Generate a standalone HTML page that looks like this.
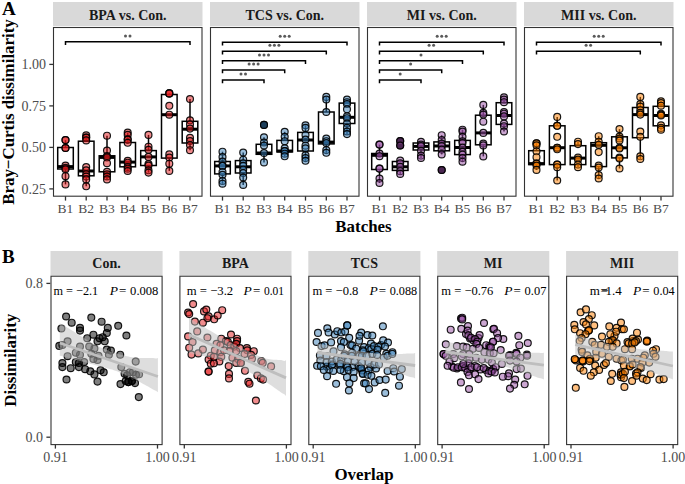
<!DOCTYPE html><html><head><meta charset="utf-8"><style>html,body{margin:0;padding:0;background:#fff;width:685px;height:484px;overflow:hidden}</style></head><body><svg width="685" height="484" viewBox="0 0 685 484" style="position:absolute;left:0;top:0" font-family='"Liberation Serif", serif'>
<rect width="685" height="484" fill="#fff"/>
<text x="2" y="14.6" font-size="19" font-weight="bold" fill="#000">A</text>
<text x="2" y="263" font-size="19" font-weight="bold" fill="#000">B</text>
<text transform="translate(13.8,112) rotate(-90)" text-anchor="middle" font-size="16.9" font-weight="bold" fill="#000">Bray−Curtis dissimilarity</text>
<text transform="translate(16.3,360.2) rotate(-90)" text-anchor="middle" font-size="16.9" font-weight="bold" fill="#000">Dissimilarity</text>
<text x="363.5" y="231.6" text-anchor="middle" font-size="16.9" font-weight="bold" fill="#000">Batches</text>
<text x="364" y="480" text-anchor="middle" font-size="16.9" font-weight="bold" fill="#000">Overlap</text>
<text x="46" y="193.9" text-anchor="end" font-size="14" fill="#4d4d4d">0.25</text>
<line x1="49.3" x2="53.2" y1="188.9" y2="188.9" stroke="#333333" stroke-width="1.3"/>
<text x="46" y="152.4" text-anchor="end" font-size="14" fill="#4d4d4d">0.50</text>
<line x1="49.3" x2="53.2" y1="147.4" y2="147.4" stroke="#333333" stroke-width="1.3"/>
<text x="46" y="110.9" text-anchor="end" font-size="14" fill="#4d4d4d">0.75</text>
<line x1="49.3" x2="53.2" y1="105.9" y2="105.9" stroke="#333333" stroke-width="1.3"/>
<text x="46" y="69.4" text-anchor="end" font-size="14" fill="#4d4d4d">1.00</text>
<line x1="49.3" x2="53.2" y1="64.4" y2="64.4" stroke="#333333" stroke-width="1.3"/>
<rect x="53" y="2" width="149.5" height="24" fill="#d9d9d9"/>
<text x="127.8" y="20" text-anchor="middle" font-size="14" font-weight="bold" fill="#1a1a1a">BPA vs. Con.</text>
<line x1="65.5" x2="65.5" y1="140.1" y2="147.5" stroke="#000" stroke-width="1.5"/>
<line x1="65.5" x2="65.5" y1="169.0" y2="184.4" stroke="#000" stroke-width="1.5"/>
<rect x="57.7" y="147.5" width="15.6" height="21.5" fill="#fff" stroke="#000" stroke-width="1.5"/>
<line x1="57.7" x2="73.3" y1="166.6" y2="166.6" stroke="#000" stroke-width="3"/>
<circle cx="65.5" cy="140.1" r="3.45" fill="rgba(228,26,28,0.5)" stroke="rgba(0,0,0,0.9)" stroke-width="1.2"/>
<circle cx="65.5" cy="140.1" r="3.45" fill="rgba(228,26,28,0.5)" stroke="rgba(0,0,0,0.9)" stroke-width="1.2"/>
<circle cx="65.5" cy="148.0" r="3.45" fill="rgba(228,26,28,0.5)" stroke="rgba(0,0,0,0.9)" stroke-width="1.2"/>
<circle cx="65.5" cy="148.0" r="3.45" fill="rgba(228,26,28,0.5)" stroke="rgba(0,0,0,0.9)" stroke-width="1.2"/>
<circle cx="65.5" cy="165.5" r="3.45" fill="rgba(228,26,28,0.5)" stroke="rgba(0,0,0,0.9)" stroke-width="1.2"/>
<circle cx="65.5" cy="167.9" r="3.45" fill="rgba(228,26,28,0.5)" stroke="rgba(0,0,0,0.9)" stroke-width="1.2"/>
<circle cx="65.5" cy="169.3" r="3.45" fill="rgba(228,26,28,0.5)" stroke="rgba(0,0,0,0.9)" stroke-width="1.2"/>
<circle cx="65.5" cy="176.2" r="3.45" fill="rgba(228,26,28,0.5)" stroke="rgba(0,0,0,0.9)" stroke-width="1.2"/>
<circle cx="65.5" cy="184.4" r="3.45" fill="rgba(228,26,28,0.5)" stroke="rgba(0,0,0,0.9)" stroke-width="1.2"/>
<line x1="86.2" x2="86.2" y1="135.4" y2="141.2" stroke="#000" stroke-width="1.5"/>
<line x1="86.2" x2="86.2" y1="175.8" y2="186.3" stroke="#000" stroke-width="1.5"/>
<rect x="78.4" y="141.2" width="15.6" height="34.6" fill="#fff" stroke="#000" stroke-width="1.5"/>
<line x1="78.4" x2="94.0" y1="171.0" y2="171.0" stroke="#000" stroke-width="3"/>
<circle cx="86.2" cy="135.4" r="3.45" fill="rgba(228,26,28,0.5)" stroke="rgba(0,0,0,0.9)" stroke-width="1.2"/>
<circle cx="86.2" cy="137.6" r="3.45" fill="rgba(228,26,28,0.5)" stroke="rgba(0,0,0,0.9)" stroke-width="1.2"/>
<circle cx="86.2" cy="137.6" r="3.45" fill="rgba(228,26,28,0.5)" stroke="rgba(0,0,0,0.9)" stroke-width="1.2"/>
<circle cx="86.2" cy="140.4" r="3.45" fill="rgba(228,26,28,0.5)" stroke="rgba(0,0,0,0.9)" stroke-width="1.2"/>
<circle cx="86.2" cy="167.1" r="3.45" fill="rgba(228,26,28,0.5)" stroke="rgba(0,0,0,0.9)" stroke-width="1.2"/>
<circle cx="86.2" cy="170.3" r="3.45" fill="rgba(228,26,28,0.5)" stroke="rgba(0,0,0,0.9)" stroke-width="1.2"/>
<circle cx="86.2" cy="174.2" r="3.45" fill="rgba(228,26,28,0.5)" stroke="rgba(0,0,0,0.9)" stroke-width="1.2"/>
<circle cx="86.2" cy="176.5" r="3.45" fill="rgba(228,26,28,0.5)" stroke="rgba(0,0,0,0.9)" stroke-width="1.2"/>
<circle cx="86.2" cy="179.4" r="3.45" fill="rgba(228,26,28,0.5)" stroke="rgba(0,0,0,0.9)" stroke-width="1.2"/>
<circle cx="86.2" cy="186.3" r="3.45" fill="rgba(228,26,28,0.5)" stroke="rgba(0,0,0,0.9)" stroke-width="1.2"/>
<line x1="107.0" x2="107.0" y1="135.7" y2="155.8" stroke="#000" stroke-width="1.5"/>
<line x1="107.0" x2="107.0" y1="171.8" y2="179.4" stroke="#000" stroke-width="1.5"/>
<rect x="99.2" y="155.8" width="15.6" height="16.0" fill="#fff" stroke="#000" stroke-width="1.5"/>
<line x1="99.2" x2="114.8" y1="157.4" y2="157.4" stroke="#000" stroke-width="3"/>
<circle cx="107.0" cy="135.7" r="3.45" fill="rgba(228,26,28,0.5)" stroke="rgba(0,0,0,0.9)" stroke-width="1.2"/>
<circle cx="107.0" cy="150.6" r="3.45" fill="rgba(228,26,28,0.5)" stroke="rgba(0,0,0,0.9)" stroke-width="1.2"/>
<circle cx="107.0" cy="156.1" r="3.45" fill="rgba(228,26,28,0.5)" stroke="rgba(0,0,0,0.9)" stroke-width="1.2"/>
<circle cx="107.0" cy="157.4" r="3.45" fill="rgba(228,26,28,0.5)" stroke="rgba(0,0,0,0.9)" stroke-width="1.2"/>
<circle cx="107.0" cy="163.2" r="3.45" fill="rgba(228,26,28,0.5)" stroke="rgba(0,0,0,0.9)" stroke-width="1.2"/>
<circle cx="107.0" cy="171.8" r="3.45" fill="rgba(228,26,28,0.5)" stroke="rgba(0,0,0,0.9)" stroke-width="1.2"/>
<circle cx="107.0" cy="174.2" r="3.45" fill="rgba(228,26,28,0.5)" stroke="rgba(0,0,0,0.9)" stroke-width="1.2"/>
<circle cx="107.0" cy="176.5" r="3.45" fill="rgba(228,26,28,0.5)" stroke="rgba(0,0,0,0.9)" stroke-width="1.2"/>
<circle cx="107.0" cy="179.4" r="3.45" fill="rgba(228,26,28,0.5)" stroke="rgba(0,0,0,0.9)" stroke-width="1.2"/>
<line x1="127.7" x2="127.7" y1="132.6" y2="142.5" stroke="#000" stroke-width="1.5"/>
<line x1="127.7" x2="127.7" y1="166.8" y2="171.0" stroke="#000" stroke-width="1.5"/>
<rect x="119.9" y="142.5" width="15.6" height="24.3" fill="#fff" stroke="#000" stroke-width="1.5"/>
<line x1="119.9" x2="135.5" y1="162.1" y2="162.1" stroke="#000" stroke-width="3"/>
<circle cx="127.7" cy="132.6" r="3.45" fill="rgba(228,26,28,0.5)" stroke="rgba(0,0,0,0.9)" stroke-width="1.2"/>
<circle cx="127.7" cy="134.9" r="3.45" fill="rgba(228,26,28,0.5)" stroke="rgba(0,0,0,0.9)" stroke-width="1.2"/>
<circle cx="127.7" cy="139.6" r="3.45" fill="rgba(228,26,28,0.5)" stroke="rgba(0,0,0,0.9)" stroke-width="1.2"/>
<circle cx="127.7" cy="139.6" r="3.45" fill="rgba(228,26,28,0.5)" stroke="rgba(0,0,0,0.9)" stroke-width="1.2"/>
<circle cx="127.7" cy="142.8" r="3.45" fill="rgba(228,26,28,0.5)" stroke="rgba(0,0,0,0.9)" stroke-width="1.2"/>
<circle cx="127.7" cy="160.8" r="3.45" fill="rgba(228,26,28,0.5)" stroke="rgba(0,0,0,0.9)" stroke-width="1.2"/>
<circle cx="127.7" cy="162.7" r="3.45" fill="rgba(228,26,28,0.5)" stroke="rgba(0,0,0,0.9)" stroke-width="1.2"/>
<circle cx="127.7" cy="167.1" r="3.45" fill="rgba(228,26,28,0.5)" stroke="rgba(0,0,0,0.9)" stroke-width="1.2"/>
<circle cx="127.7" cy="168.7" r="3.45" fill="rgba(228,26,28,0.5)" stroke="rgba(0,0,0,0.9)" stroke-width="1.2"/>
<circle cx="127.7" cy="171.0" r="3.45" fill="rgba(228,26,28,0.5)" stroke="rgba(0,0,0,0.9)" stroke-width="1.2"/>
<line x1="148.5" x2="148.5" y1="134.9" y2="150.6" stroke="#000" stroke-width="1.5"/>
<line x1="148.5" x2="148.5" y1="165.5" y2="172.6" stroke="#000" stroke-width="1.5"/>
<rect x="140.7" y="150.6" width="15.6" height="14.9" fill="#fff" stroke="#000" stroke-width="1.5"/>
<line x1="140.7" x2="156.3" y1="156.9" y2="156.9" stroke="#000" stroke-width="3"/>
<circle cx="148.5" cy="134.9" r="3.45" fill="rgba(228,26,28,0.5)" stroke="rgba(0,0,0,0.9)" stroke-width="1.2"/>
<circle cx="148.5" cy="146.7" r="3.45" fill="rgba(228,26,28,0.5)" stroke="rgba(0,0,0,0.9)" stroke-width="1.2"/>
<circle cx="148.5" cy="149.8" r="3.45" fill="rgba(228,26,28,0.5)" stroke="rgba(0,0,0,0.9)" stroke-width="1.2"/>
<circle cx="148.5" cy="156.9" r="3.45" fill="rgba(228,26,28,0.5)" stroke="rgba(0,0,0,0.9)" stroke-width="1.2"/>
<circle cx="148.5" cy="164.0" r="3.45" fill="rgba(228,26,28,0.5)" stroke="rgba(0,0,0,0.9)" stroke-width="1.2"/>
<circle cx="148.5" cy="165.5" r="3.45" fill="rgba(228,26,28,0.5)" stroke="rgba(0,0,0,0.9)" stroke-width="1.2"/>
<circle cx="148.5" cy="170.3" r="3.45" fill="rgba(228,26,28,0.5)" stroke="rgba(0,0,0,0.9)" stroke-width="1.2"/>
<circle cx="148.5" cy="172.6" r="3.45" fill="rgba(228,26,28,0.5)" stroke="rgba(0,0,0,0.9)" stroke-width="1.2"/>
<line x1="169.3" x2="169.3" y1="93.4" y2="94.5" stroke="#000" stroke-width="1.5"/>
<line x1="169.3" x2="169.3" y1="158.1" y2="170.9" stroke="#000" stroke-width="1.5"/>
<rect x="161.5" y="94.5" width="15.6" height="63.6" fill="#fff" stroke="#000" stroke-width="1.5"/>
<line x1="161.5" x2="177.1" y1="114.7" y2="114.7" stroke="#000" stroke-width="3"/>
<circle cx="169.3" cy="93.4" r="3.45" fill="rgba(228,26,28,0.5)" stroke="rgba(0,0,0,0.9)" stroke-width="1.2"/>
<circle cx="169.3" cy="93.4" r="3.45" fill="rgba(228,26,28,0.5)" stroke="rgba(0,0,0,0.9)" stroke-width="1.2"/>
<circle cx="169.3" cy="93.4" r="3.45" fill="rgba(228,26,28,0.5)" stroke="rgba(0,0,0,0.9)" stroke-width="1.2"/>
<circle cx="169.3" cy="105.8" r="3.45" fill="rgba(228,26,28,0.5)" stroke="rgba(0,0,0,0.9)" stroke-width="1.2"/>
<circle cx="169.3" cy="114.7" r="3.45" fill="rgba(228,26,28,0.5)" stroke="rgba(0,0,0,0.9)" stroke-width="1.2"/>
<circle cx="169.3" cy="154.4" r="3.45" fill="rgba(228,26,28,0.5)" stroke="rgba(0,0,0,0.9)" stroke-width="1.2"/>
<circle cx="169.3" cy="157.5" r="3.45" fill="rgba(228,26,28,0.5)" stroke="rgba(0,0,0,0.9)" stroke-width="1.2"/>
<circle cx="169.3" cy="163.7" r="3.45" fill="rgba(228,26,28,0.5)" stroke="rgba(0,0,0,0.9)" stroke-width="1.2"/>
<circle cx="169.3" cy="170.9" r="3.45" fill="rgba(228,26,28,0.5)" stroke="rgba(0,0,0,0.9)" stroke-width="1.2"/>
<line x1="190.0" x2="190.0" y1="99.0" y2="121.3" stroke="#000" stroke-width="1.5"/>
<line x1="190.0" x2="190.0" y1="143.0" y2="150.2" stroke="#000" stroke-width="1.5"/>
<rect x="182.2" y="121.3" width="15.6" height="21.7" fill="#fff" stroke="#000" stroke-width="1.5"/>
<line x1="182.2" x2="197.8" y1="129.2" y2="129.2" stroke="#000" stroke-width="3"/>
<circle cx="190.0" cy="99.0" r="3.45" fill="rgba(228,26,28,0.5)" stroke="rgba(0,0,0,0.9)" stroke-width="1.2"/>
<circle cx="190.0" cy="120.3" r="3.45" fill="rgba(228,26,28,0.5)" stroke="rgba(0,0,0,0.9)" stroke-width="1.2"/>
<circle cx="190.0" cy="124.4" r="3.45" fill="rgba(228,26,28,0.5)" stroke="rgba(0,0,0,0.9)" stroke-width="1.2"/>
<circle cx="190.0" cy="128.6" r="3.45" fill="rgba(228,26,28,0.5)" stroke="rgba(0,0,0,0.9)" stroke-width="1.2"/>
<circle cx="190.0" cy="137.9" r="3.45" fill="rgba(228,26,28,0.5)" stroke="rgba(0,0,0,0.9)" stroke-width="1.2"/>
<circle cx="190.0" cy="141.0" r="3.45" fill="rgba(228,26,28,0.5)" stroke="rgba(0,0,0,0.9)" stroke-width="1.2"/>
<circle cx="190.0" cy="145.1" r="3.45" fill="rgba(228,26,28,0.5)" stroke="rgba(0,0,0,0.9)" stroke-width="1.2"/>
<circle cx="190.0" cy="150.2" r="3.45" fill="rgba(228,26,28,0.5)" stroke="rgba(0,0,0,0.9)" stroke-width="1.2"/>
<path d="M65.5,45.1 V41.8 H190.0 V45.1" fill="none" stroke="#000" stroke-width="1.5"/>
<circle cx="125.5" cy="35.9" r="1.5" fill="#5a5a5a"/>
<circle cx="130.0" cy="35.9" r="1.5" fill="#5a5a5a"/>
<rect x="53.5" y="27.5" width="148.5" height="168.7" fill="none" stroke="#333333" stroke-width="1.1"/>
<line x1="65.5" x2="65.5" y1="196.2" y2="200.6" stroke="#333333" stroke-width="1.3"/>
<text x="65.5" y="212.9" text-anchor="middle" font-size="13.5" fill="#4d4d4d">B1</text>
<line x1="86.2" x2="86.2" y1="196.2" y2="200.6" stroke="#333333" stroke-width="1.3"/>
<text x="86.2" y="212.9" text-anchor="middle" font-size="13.5" fill="#4d4d4d">B2</text>
<line x1="107.0" x2="107.0" y1="196.2" y2="200.6" stroke="#333333" stroke-width="1.3"/>
<text x="107.0" y="212.9" text-anchor="middle" font-size="13.5" fill="#4d4d4d">B3</text>
<line x1="127.7" x2="127.7" y1="196.2" y2="200.6" stroke="#333333" stroke-width="1.3"/>
<text x="127.7" y="212.9" text-anchor="middle" font-size="13.5" fill="#4d4d4d">B4</text>
<line x1="148.5" x2="148.5" y1="196.2" y2="200.6" stroke="#333333" stroke-width="1.3"/>
<text x="148.5" y="212.9" text-anchor="middle" font-size="13.5" fill="#4d4d4d">B5</text>
<line x1="169.3" x2="169.3" y1="196.2" y2="200.6" stroke="#333333" stroke-width="1.3"/>
<text x="169.3" y="212.9" text-anchor="middle" font-size="13.5" fill="#4d4d4d">B6</text>
<line x1="190.0" x2="190.0" y1="196.2" y2="200.6" stroke="#333333" stroke-width="1.3"/>
<text x="190.0" y="212.9" text-anchor="middle" font-size="13.5" fill="#4d4d4d">B7</text>
<rect x="210" y="2" width="149.5" height="24" fill="#d9d9d9"/>
<text x="284.8" y="20" text-anchor="middle" font-size="14" font-weight="bold" fill="#1a1a1a">TCS vs. Con.</text>
<line x1="222.5" x2="222.5" y1="151.7" y2="161.5" stroke="#000" stroke-width="1.5"/>
<line x1="222.5" x2="222.5" y1="173.9" y2="183.7" stroke="#000" stroke-width="1.5"/>
<rect x="214.7" y="161.5" width="15.6" height="12.4" fill="#fff" stroke="#000" stroke-width="1.5"/>
<line x1="214.7" x2="230.3" y1="165.9" y2="165.9" stroke="#000" stroke-width="3"/>
<circle cx="222.5" cy="151.7" r="3.45" fill="rgba(55,126,184,0.5)" stroke="rgba(0,0,0,0.9)" stroke-width="1.2"/>
<circle cx="222.5" cy="157.0" r="3.45" fill="rgba(55,126,184,0.5)" stroke="rgba(0,0,0,0.9)" stroke-width="1.2"/>
<circle cx="222.5" cy="161.5" r="3.45" fill="rgba(55,126,184,0.5)" stroke="rgba(0,0,0,0.9)" stroke-width="1.2"/>
<circle cx="222.5" cy="165.9" r="3.45" fill="rgba(55,126,184,0.5)" stroke="rgba(0,0,0,0.9)" stroke-width="1.2"/>
<circle cx="222.5" cy="165.9" r="3.45" fill="rgba(55,126,184,0.5)" stroke="rgba(0,0,0,0.9)" stroke-width="1.2"/>
<circle cx="222.5" cy="172.1" r="3.45" fill="rgba(55,126,184,0.5)" stroke="rgba(0,0,0,0.9)" stroke-width="1.2"/>
<circle cx="222.5" cy="174.8" r="3.45" fill="rgba(55,126,184,0.5)" stroke="rgba(0,0,0,0.9)" stroke-width="1.2"/>
<circle cx="222.5" cy="181.0" r="3.45" fill="rgba(55,126,184,0.5)" stroke="rgba(0,0,0,0.9)" stroke-width="1.2"/>
<circle cx="222.5" cy="183.7" r="3.45" fill="rgba(55,126,184,0.5)" stroke="rgba(0,0,0,0.9)" stroke-width="1.2"/>
<line x1="243.2" x2="243.2" y1="152.6" y2="160.6" stroke="#000" stroke-width="1.5"/>
<line x1="243.2" x2="243.2" y1="173.0" y2="184.9" stroke="#000" stroke-width="1.5"/>
<rect x="235.4" y="160.6" width="15.6" height="12.4" fill="#fff" stroke="#000" stroke-width="1.5"/>
<line x1="235.4" x2="251.0" y1="166.8" y2="166.8" stroke="#000" stroke-width="3"/>
<circle cx="243.2" cy="152.6" r="3.45" fill="rgba(55,126,184,0.5)" stroke="rgba(0,0,0,0.9)" stroke-width="1.2"/>
<circle cx="243.2" cy="159.7" r="3.45" fill="rgba(55,126,184,0.5)" stroke="rgba(0,0,0,0.9)" stroke-width="1.2"/>
<circle cx="243.2" cy="163.3" r="3.45" fill="rgba(55,126,184,0.5)" stroke="rgba(0,0,0,0.9)" stroke-width="1.2"/>
<circle cx="243.2" cy="165.9" r="3.45" fill="rgba(55,126,184,0.5)" stroke="rgba(0,0,0,0.9)" stroke-width="1.2"/>
<circle cx="243.2" cy="169.5" r="3.45" fill="rgba(55,126,184,0.5)" stroke="rgba(0,0,0,0.9)" stroke-width="1.2"/>
<circle cx="243.2" cy="173.0" r="3.45" fill="rgba(55,126,184,0.5)" stroke="rgba(0,0,0,0.9)" stroke-width="1.2"/>
<circle cx="243.2" cy="177.5" r="3.45" fill="rgba(55,126,184,0.5)" stroke="rgba(0,0,0,0.9)" stroke-width="1.2"/>
<circle cx="243.2" cy="184.9" r="3.45" fill="rgba(55,126,184,0.5)" stroke="rgba(0,0,0,0.9)" stroke-width="1.2"/>
<line x1="264.0" x2="264.0" y1="137.3" y2="144.3" stroke="#000" stroke-width="1.5"/>
<line x1="264.0" x2="264.0" y1="154.3" y2="162.4" stroke="#000" stroke-width="1.5"/>
<rect x="256.2" y="144.3" width="15.6" height="10.0" fill="#fff" stroke="#000" stroke-width="1.5"/>
<line x1="256.2" x2="271.8" y1="153.0" y2="153.0" stroke="#000" stroke-width="3"/>
<circle cx="264.0" cy="124.9" r="3.45" fill="#000" stroke="rgba(0,0,0,0.9)" stroke-width="1.2"/>
<circle cx="264.0" cy="124.9" r="3.45" fill="rgba(55,126,184,0.5)" stroke="rgba(0,0,0,0.9)" stroke-width="1.2"/>
<circle cx="264.0" cy="137.3" r="3.45" fill="rgba(55,126,184,0.5)" stroke="rgba(0,0,0,0.9)" stroke-width="1.2"/>
<circle cx="264.0" cy="142.5" r="3.45" fill="rgba(55,126,184,0.5)" stroke="rgba(0,0,0,0.9)" stroke-width="1.2"/>
<circle cx="264.0" cy="145.5" r="3.45" fill="rgba(55,126,184,0.5)" stroke="rgba(0,0,0,0.9)" stroke-width="1.2"/>
<circle cx="264.0" cy="153.0" r="3.45" fill="rgba(55,126,184,0.5)" stroke="rgba(0,0,0,0.9)" stroke-width="1.2"/>
<circle cx="264.0" cy="162.4" r="3.45" fill="rgba(55,126,184,0.5)" stroke="rgba(0,0,0,0.9)" stroke-width="1.2"/>
<line x1="284.7" x2="284.7" y1="131.8" y2="140.4" stroke="#000" stroke-width="1.5"/>
<line x1="284.7" x2="284.7" y1="151.9" y2="156.3" stroke="#000" stroke-width="1.5"/>
<rect x="276.9" y="140.4" width="15.6" height="11.5" fill="#fff" stroke="#000" stroke-width="1.5"/>
<line x1="276.9" x2="292.5" y1="151.0" y2="151.0" stroke="#000" stroke-width="3"/>
<circle cx="284.7" cy="131.8" r="3.45" fill="rgba(55,126,184,0.5)" stroke="rgba(0,0,0,0.9)" stroke-width="1.2"/>
<circle cx="284.7" cy="136.8" r="3.45" fill="rgba(55,126,184,0.5)" stroke="rgba(0,0,0,0.9)" stroke-width="1.2"/>
<circle cx="284.7" cy="141.2" r="3.45" fill="rgba(55,126,184,0.5)" stroke="rgba(0,0,0,0.9)" stroke-width="1.2"/>
<circle cx="284.7" cy="148.3" r="3.45" fill="rgba(55,126,184,0.5)" stroke="rgba(0,0,0,0.9)" stroke-width="1.2"/>
<circle cx="284.7" cy="151.0" r="3.45" fill="rgba(55,126,184,0.5)" stroke="rgba(0,0,0,0.9)" stroke-width="1.2"/>
<circle cx="284.7" cy="151.0" r="3.45" fill="rgba(55,126,184,0.5)" stroke="rgba(0,0,0,0.9)" stroke-width="1.2"/>
<circle cx="284.7" cy="153.7" r="3.45" fill="rgba(55,126,184,0.5)" stroke="rgba(0,0,0,0.9)" stroke-width="1.2"/>
<circle cx="284.7" cy="156.3" r="3.45" fill="rgba(55,126,184,0.5)" stroke="rgba(0,0,0,0.9)" stroke-width="1.2"/>
<line x1="305.5" x2="305.5" y1="125.3" y2="132.4" stroke="#000" stroke-width="1.5"/>
<line x1="305.5" x2="305.5" y1="151.0" y2="160.8" stroke="#000" stroke-width="1.5"/>
<rect x="297.7" y="132.4" width="15.6" height="18.6" fill="#fff" stroke="#000" stroke-width="1.5"/>
<line x1="297.7" x2="313.3" y1="140.0" y2="140.0" stroke="#000" stroke-width="3"/>
<circle cx="305.5" cy="125.3" r="3.45" fill="rgba(55,126,184,0.5)" stroke="rgba(0,0,0,0.9)" stroke-width="1.2"/>
<circle cx="305.5" cy="127.9" r="3.45" fill="rgba(55,126,184,0.5)" stroke="rgba(0,0,0,0.9)" stroke-width="1.2"/>
<circle cx="305.5" cy="135.0" r="3.45" fill="rgba(55,126,184,0.5)" stroke="rgba(0,0,0,0.9)" stroke-width="1.2"/>
<circle cx="305.5" cy="139.5" r="3.45" fill="rgba(55,126,184,0.5)" stroke="rgba(0,0,0,0.9)" stroke-width="1.2"/>
<circle cx="305.5" cy="145.7" r="3.45" fill="rgba(55,126,184,0.5)" stroke="rgba(0,0,0,0.9)" stroke-width="1.2"/>
<circle cx="305.5" cy="148.3" r="3.45" fill="rgba(55,126,184,0.5)" stroke="rgba(0,0,0,0.9)" stroke-width="1.2"/>
<circle cx="305.5" cy="155.4" r="3.45" fill="rgba(55,126,184,0.5)" stroke="rgba(0,0,0,0.9)" stroke-width="1.2"/>
<circle cx="305.5" cy="158.1" r="3.45" fill="rgba(55,126,184,0.5)" stroke="rgba(0,0,0,0.9)" stroke-width="1.2"/>
<circle cx="305.5" cy="160.8" r="3.45" fill="rgba(55,126,184,0.5)" stroke="rgba(0,0,0,0.9)" stroke-width="1.2"/>
<line x1="326.3" x2="326.3" y1="96.9" y2="112.0" stroke="#000" stroke-width="1.5"/>
<line x1="326.3" x2="326.3" y1="143.9" y2="152.8" stroke="#000" stroke-width="1.5"/>
<rect x="318.5" y="112.0" width="15.6" height="31.9" fill="#fff" stroke="#000" stroke-width="1.5"/>
<line x1="318.5" x2="334.1" y1="142.1" y2="142.1" stroke="#000" stroke-width="3"/>
<circle cx="326.3" cy="96.9" r="3.45" fill="rgba(55,126,184,0.5)" stroke="rgba(0,0,0,0.9)" stroke-width="1.2"/>
<circle cx="326.3" cy="99.5" r="3.45" fill="rgba(55,126,184,0.5)" stroke="rgba(0,0,0,0.9)" stroke-width="1.2"/>
<circle cx="326.3" cy="112.0" r="3.45" fill="rgba(55,126,184,0.5)" stroke="rgba(0,0,0,0.9)" stroke-width="1.2"/>
<circle cx="326.3" cy="138.6" r="3.45" fill="rgba(55,126,184,0.5)" stroke="rgba(0,0,0,0.9)" stroke-width="1.2"/>
<circle cx="326.3" cy="141.2" r="3.45" fill="rgba(55,126,184,0.5)" stroke="rgba(0,0,0,0.9)" stroke-width="1.2"/>
<circle cx="326.3" cy="143.0" r="3.45" fill="rgba(55,126,184,0.5)" stroke="rgba(0,0,0,0.9)" stroke-width="1.2"/>
<circle cx="326.3" cy="150.1" r="3.45" fill="rgba(55,126,184,0.5)" stroke="rgba(0,0,0,0.9)" stroke-width="1.2"/>
<circle cx="326.3" cy="152.8" r="3.45" fill="rgba(55,126,184,0.5)" stroke="rgba(0,0,0,0.9)" stroke-width="1.2"/>
<line x1="347.0" x2="347.0" y1="99.5" y2="103.1" stroke="#000" stroke-width="1.5"/>
<line x1="347.0" x2="347.0" y1="123.5" y2="134.1" stroke="#000" stroke-width="1.5"/>
<rect x="339.2" y="103.1" width="15.6" height="20.4" fill="#fff" stroke="#000" stroke-width="1.5"/>
<line x1="339.2" x2="354.8" y1="117.3" y2="117.3" stroke="#000" stroke-width="3"/>
<circle cx="347.0" cy="99.5" r="3.45" fill="rgba(55,126,184,0.5)" stroke="rgba(0,0,0,0.9)" stroke-width="1.2"/>
<circle cx="347.0" cy="102.2" r="3.45" fill="rgba(55,126,184,0.5)" stroke="rgba(0,0,0,0.9)" stroke-width="1.2"/>
<circle cx="347.0" cy="104.0" r="3.45" fill="rgba(55,126,184,0.5)" stroke="rgba(0,0,0,0.9)" stroke-width="1.2"/>
<circle cx="347.0" cy="109.3" r="3.45" fill="rgba(55,126,184,0.5)" stroke="rgba(0,0,0,0.9)" stroke-width="1.2"/>
<circle cx="347.0" cy="116.4" r="3.45" fill="rgba(55,126,184,0.5)" stroke="rgba(0,0,0,0.9)" stroke-width="1.2"/>
<circle cx="347.0" cy="118.2" r="3.45" fill="rgba(55,126,184,0.5)" stroke="rgba(0,0,0,0.9)" stroke-width="1.2"/>
<circle cx="347.0" cy="123.5" r="3.45" fill="rgba(55,126,184,0.5)" stroke="rgba(0,0,0,0.9)" stroke-width="1.2"/>
<circle cx="347.0" cy="127.9" r="3.45" fill="rgba(55,126,184,0.5)" stroke="rgba(0,0,0,0.9)" stroke-width="1.2"/>
<circle cx="347.0" cy="131.5" r="3.45" fill="rgba(55,126,184,0.5)" stroke="rgba(0,0,0,0.9)" stroke-width="1.2"/>
<circle cx="347.0" cy="134.1" r="3.45" fill="rgba(55,126,184,0.5)" stroke="rgba(0,0,0,0.9)" stroke-width="1.2"/>
<path d="M222.5,45.5 V42.2 H347.0 V45.5" fill="none" stroke="#000" stroke-width="1.5"/>
<circle cx="280.2" cy="36.3" r="1.5" fill="#5a5a5a"/>
<circle cx="284.7" cy="36.3" r="1.5" fill="#5a5a5a"/>
<circle cx="289.2" cy="36.3" r="1.5" fill="#5a5a5a"/>
<path d="M222.5,54.5 V51.2 H326.3 V54.5" fill="none" stroke="#000" stroke-width="1.5"/>
<circle cx="269.9" cy="45.3" r="1.5" fill="#5a5a5a"/>
<circle cx="274.4" cy="45.3" r="1.5" fill="#5a5a5a"/>
<circle cx="278.9" cy="45.3" r="1.5" fill="#5a5a5a"/>
<path d="M222.5,64.1 V60.8 H305.5 V64.1" fill="none" stroke="#000" stroke-width="1.5"/>
<circle cx="259.5" cy="54.9" r="1.5" fill="#5a5a5a"/>
<circle cx="264.0" cy="54.9" r="1.5" fill="#5a5a5a"/>
<circle cx="268.5" cy="54.9" r="1.5" fill="#5a5a5a"/>
<path d="M222.5,73.3 V70.0 H284.7 V73.3" fill="none" stroke="#000" stroke-width="1.5"/>
<circle cx="249.1" cy="64.1" r="1.5" fill="#5a5a5a"/>
<circle cx="253.6" cy="64.1" r="1.5" fill="#5a5a5a"/>
<circle cx="258.1" cy="64.1" r="1.5" fill="#5a5a5a"/>
<path d="M222.5,83.2 V79.9 H264.0 V83.2" fill="none" stroke="#000" stroke-width="1.5"/>
<circle cx="241.0" cy="74.0" r="1.5" fill="#5a5a5a"/>
<circle cx="245.5" cy="74.0" r="1.5" fill="#5a5a5a"/>
<rect x="210.5" y="27.5" width="148.5" height="168.7" fill="none" stroke="#333333" stroke-width="1.1"/>
<line x1="222.5" x2="222.5" y1="196.2" y2="200.6" stroke="#333333" stroke-width="1.3"/>
<text x="222.5" y="212.9" text-anchor="middle" font-size="13.5" fill="#4d4d4d">B1</text>
<line x1="243.2" x2="243.2" y1="196.2" y2="200.6" stroke="#333333" stroke-width="1.3"/>
<text x="243.2" y="212.9" text-anchor="middle" font-size="13.5" fill="#4d4d4d">B2</text>
<line x1="264.0" x2="264.0" y1="196.2" y2="200.6" stroke="#333333" stroke-width="1.3"/>
<text x="264.0" y="212.9" text-anchor="middle" font-size="13.5" fill="#4d4d4d">B3</text>
<line x1="284.7" x2="284.7" y1="196.2" y2="200.6" stroke="#333333" stroke-width="1.3"/>
<text x="284.7" y="212.9" text-anchor="middle" font-size="13.5" fill="#4d4d4d">B4</text>
<line x1="305.5" x2="305.5" y1="196.2" y2="200.6" stroke="#333333" stroke-width="1.3"/>
<text x="305.5" y="212.9" text-anchor="middle" font-size="13.5" fill="#4d4d4d">B5</text>
<line x1="326.3" x2="326.3" y1="196.2" y2="200.6" stroke="#333333" stroke-width="1.3"/>
<text x="326.3" y="212.9" text-anchor="middle" font-size="13.5" fill="#4d4d4d">B6</text>
<line x1="347.0" x2="347.0" y1="196.2" y2="200.6" stroke="#333333" stroke-width="1.3"/>
<text x="347.0" y="212.9" text-anchor="middle" font-size="13.5" fill="#4d4d4d">B7</text>
<rect x="367" y="2" width="149.5" height="24" fill="#d9d9d9"/>
<text x="441.8" y="20" text-anchor="middle" font-size="14" font-weight="bold" fill="#1a1a1a">MI vs. Con.</text>
<line x1="379.5" x2="379.5" y1="144.6" y2="153.5" stroke="#000" stroke-width="1.5"/>
<line x1="379.5" x2="379.5" y1="169.5" y2="183.0" stroke="#000" stroke-width="1.5"/>
<rect x="371.7" y="153.5" width="15.6" height="16.0" fill="#fff" stroke="#000" stroke-width="1.5"/>
<line x1="371.7" x2="387.3" y1="155.3" y2="155.3" stroke="#000" stroke-width="3"/>
<circle cx="379.5" cy="144.6" r="3.45" fill="rgba(152,78,163,0.5)" stroke="rgba(0,0,0,0.9)" stroke-width="1.2"/>
<circle cx="379.5" cy="144.6" r="3.45" fill="rgba(152,78,163,0.5)" stroke="rgba(0,0,0,0.9)" stroke-width="1.2"/>
<circle cx="379.5" cy="153.5" r="3.45" fill="rgba(152,78,163,0.5)" stroke="rgba(0,0,0,0.9)" stroke-width="1.2"/>
<circle cx="379.5" cy="156.2" r="3.45" fill="rgba(152,78,163,0.5)" stroke="rgba(0,0,0,0.9)" stroke-width="1.2"/>
<circle cx="379.5" cy="168.6" r="3.45" fill="rgba(152,78,163,0.5)" stroke="rgba(0,0,0,0.9)" stroke-width="1.2"/>
<circle cx="379.5" cy="168.6" r="3.45" fill="rgba(152,78,163,0.5)" stroke="rgba(0,0,0,0.9)" stroke-width="1.2"/>
<circle cx="379.5" cy="178.5" r="3.45" fill="rgba(152,78,163,0.5)" stroke="rgba(0,0,0,0.9)" stroke-width="1.2"/>
<circle cx="379.5" cy="183.0" r="3.45" fill="rgba(152,78,163,0.5)" stroke="rgba(0,0,0,0.9)" stroke-width="1.2"/>
<line x1="400.2" x2="400.2" y1="160.6" y2="161.5" stroke="#000" stroke-width="1.5"/>
<line x1="400.2" x2="400.2" y1="170.4" y2="173.9" stroke="#000" stroke-width="1.5"/>
<rect x="392.4" y="161.5" width="15.6" height="8.9" fill="#fff" stroke="#000" stroke-width="1.5"/>
<line x1="392.4" x2="408.0" y1="166.8" y2="166.8" stroke="#000" stroke-width="3"/>
<circle cx="400.2" cy="141.0" r="3.45" fill="#000" stroke="rgba(0,0,0,0.9)" stroke-width="1.2"/>
<circle cx="400.2" cy="145.5" r="3.45" fill="#000" stroke="rgba(0,0,0,0.9)" stroke-width="1.2"/>
<circle cx="400.2" cy="141.0" r="3.45" fill="rgba(152,78,163,0.5)" stroke="rgba(0,0,0,0.9)" stroke-width="1.2"/>
<circle cx="400.2" cy="145.5" r="3.45" fill="rgba(152,78,163,0.5)" stroke="rgba(0,0,0,0.9)" stroke-width="1.2"/>
<circle cx="400.2" cy="160.6" r="3.45" fill="rgba(152,78,163,0.5)" stroke="rgba(0,0,0,0.9)" stroke-width="1.2"/>
<circle cx="400.2" cy="163.3" r="3.45" fill="rgba(152,78,163,0.5)" stroke="rgba(0,0,0,0.9)" stroke-width="1.2"/>
<circle cx="400.2" cy="166.8" r="3.45" fill="rgba(152,78,163,0.5)" stroke="rgba(0,0,0,0.9)" stroke-width="1.2"/>
<circle cx="400.2" cy="171.2" r="3.45" fill="rgba(152,78,163,0.5)" stroke="rgba(0,0,0,0.9)" stroke-width="1.2"/>
<circle cx="400.2" cy="173.9" r="3.45" fill="rgba(152,78,163,0.5)" stroke="rgba(0,0,0,0.9)" stroke-width="1.2"/>
<line x1="421.0" x2="421.0" y1="141.9" y2="143.0" stroke="#000" stroke-width="1.5"/>
<line x1="421.0" x2="421.0" y1="150.0" y2="158.0" stroke="#000" stroke-width="1.5"/>
<rect x="413.2" y="143.0" width="15.6" height="7.0" fill="#fff" stroke="#000" stroke-width="1.5"/>
<line x1="413.2" x2="428.8" y1="146.4" y2="146.4" stroke="#000" stroke-width="3"/>
<circle cx="421.0" cy="141.9" r="3.45" fill="rgba(152,78,163,0.5)" stroke="rgba(0,0,0,0.9)" stroke-width="1.2"/>
<circle cx="421.0" cy="144.6" r="3.45" fill="rgba(152,78,163,0.5)" stroke="rgba(0,0,0,0.9)" stroke-width="1.2"/>
<circle cx="421.0" cy="146.0" r="3.45" fill="rgba(152,78,163,0.5)" stroke="rgba(0,0,0,0.9)" stroke-width="1.2"/>
<circle cx="421.0" cy="150.8" r="3.45" fill="rgba(152,78,163,0.5)" stroke="rgba(0,0,0,0.9)" stroke-width="1.2"/>
<circle cx="421.0" cy="155.6" r="3.45" fill="rgba(152,78,163,0.5)" stroke="rgba(0,0,0,0.9)" stroke-width="1.2"/>
<circle cx="421.0" cy="158.0" r="3.45" fill="rgba(152,78,163,0.5)" stroke="rgba(0,0,0,0.9)" stroke-width="1.2"/>
<line x1="441.7" x2="441.7" y1="135.2" y2="141.9" stroke="#000" stroke-width="1.5"/>
<line x1="441.7" x2="441.7" y1="150.8" y2="154.4" stroke="#000" stroke-width="1.5"/>
<rect x="433.9" y="141.9" width="15.6" height="8.9" fill="#fff" stroke="#000" stroke-width="1.5"/>
<line x1="433.9" x2="449.5" y1="146.0" y2="146.0" stroke="#000" stroke-width="3"/>
<circle cx="441.7" cy="170.0" r="3.45" fill="#000" stroke="rgba(0,0,0,0.9)" stroke-width="1.2"/>
<circle cx="441.7" cy="135.2" r="3.45" fill="rgba(152,78,163,0.5)" stroke="rgba(0,0,0,0.9)" stroke-width="1.2"/>
<circle cx="441.7" cy="140.0" r="3.45" fill="rgba(152,78,163,0.5)" stroke="rgba(0,0,0,0.9)" stroke-width="1.2"/>
<circle cx="441.7" cy="143.6" r="3.45" fill="rgba(152,78,163,0.5)" stroke="rgba(0,0,0,0.9)" stroke-width="1.2"/>
<circle cx="441.7" cy="146.0" r="3.45" fill="rgba(152,78,163,0.5)" stroke="rgba(0,0,0,0.9)" stroke-width="1.2"/>
<circle cx="441.7" cy="149.6" r="3.45" fill="rgba(152,78,163,0.5)" stroke="rgba(0,0,0,0.9)" stroke-width="1.2"/>
<circle cx="441.7" cy="154.4" r="3.45" fill="rgba(152,78,163,0.5)" stroke="rgba(0,0,0,0.9)" stroke-width="1.2"/>
<circle cx="441.7" cy="170.0" r="3.45" fill="rgba(152,78,163,0.5)" stroke="rgba(0,0,0,0.9)" stroke-width="1.2"/>
<line x1="462.5" x2="462.5" y1="129.7" y2="140.4" stroke="#000" stroke-width="1.5"/>
<line x1="462.5" x2="462.5" y1="154.6" y2="161.7" stroke="#000" stroke-width="1.5"/>
<rect x="454.7" y="140.4" width="15.6" height="14.2" fill="#fff" stroke="#000" stroke-width="1.5"/>
<line x1="454.7" x2="470.3" y1="147.5" y2="147.5" stroke="#000" stroke-width="3"/>
<circle cx="462.5" cy="129.7" r="3.45" fill="rgba(152,78,163,0.5)" stroke="rgba(0,0,0,0.9)" stroke-width="1.2"/>
<circle cx="462.5" cy="131.5" r="3.45" fill="rgba(152,78,163,0.5)" stroke="rgba(0,0,0,0.9)" stroke-width="1.2"/>
<circle cx="462.5" cy="136.8" r="3.45" fill="rgba(152,78,163,0.5)" stroke="rgba(0,0,0,0.9)" stroke-width="1.2"/>
<circle cx="462.5" cy="141.3" r="3.45" fill="rgba(152,78,163,0.5)" stroke="rgba(0,0,0,0.9)" stroke-width="1.2"/>
<circle cx="462.5" cy="143.0" r="3.45" fill="rgba(152,78,163,0.5)" stroke="rgba(0,0,0,0.9)" stroke-width="1.2"/>
<circle cx="462.5" cy="147.5" r="3.45" fill="rgba(152,78,163,0.5)" stroke="rgba(0,0,0,0.9)" stroke-width="1.2"/>
<circle cx="462.5" cy="151.9" r="3.45" fill="rgba(152,78,163,0.5)" stroke="rgba(0,0,0,0.9)" stroke-width="1.2"/>
<circle cx="462.5" cy="154.6" r="3.45" fill="rgba(152,78,163,0.5)" stroke="rgba(0,0,0,0.9)" stroke-width="1.2"/>
<circle cx="462.5" cy="158.1" r="3.45" fill="rgba(152,78,163,0.5)" stroke="rgba(0,0,0,0.9)" stroke-width="1.2"/>
<circle cx="462.5" cy="161.7" r="3.45" fill="rgba(152,78,163,0.5)" stroke="rgba(0,0,0,0.9)" stroke-width="1.2"/>
<line x1="483.3" x2="483.3" y1="104.9" y2="115.2" stroke="#000" stroke-width="1.5"/>
<line x1="483.3" x2="483.3" y1="144.8" y2="156.4" stroke="#000" stroke-width="1.5"/>
<rect x="475.5" y="115.2" width="15.6" height="29.6" fill="#fff" stroke="#000" stroke-width="1.5"/>
<line x1="475.5" x2="491.1" y1="132.9" y2="132.9" stroke="#000" stroke-width="3"/>
<circle cx="483.3" cy="104.9" r="3.45" fill="rgba(152,78,163,0.5)" stroke="rgba(0,0,0,0.9)" stroke-width="1.2"/>
<circle cx="483.3" cy="112.9" r="3.45" fill="rgba(152,78,163,0.5)" stroke="rgba(0,0,0,0.9)" stroke-width="1.2"/>
<circle cx="483.3" cy="114.6" r="3.45" fill="rgba(152,78,163,0.5)" stroke="rgba(0,0,0,0.9)" stroke-width="1.2"/>
<circle cx="483.3" cy="121.7" r="3.45" fill="rgba(152,78,163,0.5)" stroke="rgba(0,0,0,0.9)" stroke-width="1.2"/>
<circle cx="483.3" cy="132.9" r="3.45" fill="rgba(152,78,163,0.5)" stroke="rgba(0,0,0,0.9)" stroke-width="1.2"/>
<circle cx="483.3" cy="143.6" r="3.45" fill="rgba(152,78,163,0.5)" stroke="rgba(0,0,0,0.9)" stroke-width="1.2"/>
<circle cx="483.3" cy="145.4" r="3.45" fill="rgba(152,78,163,0.5)" stroke="rgba(0,0,0,0.9)" stroke-width="1.2"/>
<circle cx="483.3" cy="156.4" r="3.45" fill="rgba(152,78,163,0.5)" stroke="rgba(0,0,0,0.9)" stroke-width="1.2"/>
<line x1="504.0" x2="504.0" y1="97.4" y2="102.7" stroke="#000" stroke-width="1.5"/>
<line x1="504.0" x2="504.0" y1="124.4" y2="131.5" stroke="#000" stroke-width="1.5"/>
<rect x="496.2" y="102.7" width="15.6" height="21.7" fill="#fff" stroke="#000" stroke-width="1.5"/>
<line x1="496.2" x2="511.8" y1="115.5" y2="115.5" stroke="#000" stroke-width="3"/>
<circle cx="504.0" cy="97.4" r="3.45" fill="rgba(152,78,163,0.5)" stroke="rgba(0,0,0,0.9)" stroke-width="1.2"/>
<circle cx="504.0" cy="99.5" r="3.45" fill="rgba(152,78,163,0.5)" stroke="rgba(0,0,0,0.9)" stroke-width="1.2"/>
<circle cx="504.0" cy="102.2" r="3.45" fill="rgba(152,78,163,0.5)" stroke="rgba(0,0,0,0.9)" stroke-width="1.2"/>
<circle cx="504.0" cy="112.0" r="3.45" fill="rgba(152,78,163,0.5)" stroke="rgba(0,0,0,0.9)" stroke-width="1.2"/>
<circle cx="504.0" cy="113.7" r="3.45" fill="rgba(152,78,163,0.5)" stroke="rgba(0,0,0,0.9)" stroke-width="1.2"/>
<circle cx="504.0" cy="116.4" r="3.45" fill="rgba(152,78,163,0.5)" stroke="rgba(0,0,0,0.9)" stroke-width="1.2"/>
<circle cx="504.0" cy="123.5" r="3.45" fill="rgba(152,78,163,0.5)" stroke="rgba(0,0,0,0.9)" stroke-width="1.2"/>
<circle cx="504.0" cy="126.2" r="3.45" fill="rgba(152,78,163,0.5)" stroke="rgba(0,0,0,0.9)" stroke-width="1.2"/>
<circle cx="504.0" cy="131.5" r="3.45" fill="rgba(152,78,163,0.5)" stroke="rgba(0,0,0,0.9)" stroke-width="1.2"/>
<path d="M379.5,45.5 V42.2 H504.0 V45.5" fill="none" stroke="#000" stroke-width="1.5"/>
<circle cx="437.2" cy="36.3" r="1.5" fill="#5a5a5a"/>
<circle cx="441.7" cy="36.3" r="1.5" fill="#5a5a5a"/>
<circle cx="446.2" cy="36.3" r="1.5" fill="#5a5a5a"/>
<path d="M379.5,54.5 V51.2 H483.3 V54.5" fill="none" stroke="#000" stroke-width="1.5"/>
<circle cx="429.1" cy="45.3" r="1.5" fill="#5a5a5a"/>
<circle cx="433.6" cy="45.3" r="1.5" fill="#5a5a5a"/>
<path d="M379.5,64.1 V60.8 H462.5 V64.1" fill="none" stroke="#000" stroke-width="1.5"/>
<circle cx="421.0" cy="54.9" r="1.5" fill="#5a5a5a"/>
<path d="M379.5,73.3 V70.0 H441.7 V73.3" fill="none" stroke="#000" stroke-width="1.5"/>
<circle cx="410.6" cy="64.1" r="1.5" fill="#5a5a5a"/>
<path d="M379.5,83.2 V79.9 H421.0 V83.2" fill="none" stroke="#000" stroke-width="1.5"/>
<circle cx="400.2" cy="74.0" r="1.5" fill="#5a5a5a"/>
<rect x="367.5" y="27.5" width="148.5" height="168.7" fill="none" stroke="#333333" stroke-width="1.1"/>
<line x1="379.5" x2="379.5" y1="196.2" y2="200.6" stroke="#333333" stroke-width="1.3"/>
<text x="379.5" y="212.9" text-anchor="middle" font-size="13.5" fill="#4d4d4d">B1</text>
<line x1="400.2" x2="400.2" y1="196.2" y2="200.6" stroke="#333333" stroke-width="1.3"/>
<text x="400.2" y="212.9" text-anchor="middle" font-size="13.5" fill="#4d4d4d">B2</text>
<line x1="421.0" x2="421.0" y1="196.2" y2="200.6" stroke="#333333" stroke-width="1.3"/>
<text x="421.0" y="212.9" text-anchor="middle" font-size="13.5" fill="#4d4d4d">B3</text>
<line x1="441.7" x2="441.7" y1="196.2" y2="200.6" stroke="#333333" stroke-width="1.3"/>
<text x="441.7" y="212.9" text-anchor="middle" font-size="13.5" fill="#4d4d4d">B4</text>
<line x1="462.5" x2="462.5" y1="196.2" y2="200.6" stroke="#333333" stroke-width="1.3"/>
<text x="462.5" y="212.9" text-anchor="middle" font-size="13.5" fill="#4d4d4d">B5</text>
<line x1="483.3" x2="483.3" y1="196.2" y2="200.6" stroke="#333333" stroke-width="1.3"/>
<text x="483.3" y="212.9" text-anchor="middle" font-size="13.5" fill="#4d4d4d">B6</text>
<line x1="504.0" x2="504.0" y1="196.2" y2="200.6" stroke="#333333" stroke-width="1.3"/>
<text x="504.0" y="212.9" text-anchor="middle" font-size="13.5" fill="#4d4d4d">B7</text>
<rect x="524" y="2" width="149.5" height="24" fill="#d9d9d9"/>
<text x="598.8" y="20" text-anchor="middle" font-size="14" font-weight="bold" fill="#1a1a1a">MII vs. Con.</text>
<line x1="536.5" x2="536.5" y1="143.3" y2="150.7" stroke="#000" stroke-width="1.5"/>
<line x1="536.5" x2="536.5" y1="164.6" y2="169.9" stroke="#000" stroke-width="1.5"/>
<rect x="528.7" y="150.7" width="15.6" height="13.9" fill="#fff" stroke="#000" stroke-width="1.5"/>
<line x1="528.7" x2="544.3" y1="163.6" y2="163.6" stroke="#000" stroke-width="3"/>
<circle cx="536.5" cy="143.3" r="3.45" fill="rgba(255,127,0,0.5)" stroke="rgba(0,0,0,0.9)" stroke-width="1.2"/>
<circle cx="536.5" cy="143.3" r="3.45" fill="rgba(255,127,0,0.5)" stroke="rgba(0,0,0,0.9)" stroke-width="1.2"/>
<circle cx="536.5" cy="145.3" r="3.45" fill="rgba(255,127,0,0.5)" stroke="rgba(0,0,0,0.9)" stroke-width="1.2"/>
<circle cx="536.5" cy="151.3" r="3.45" fill="rgba(255,127,0,0.5)" stroke="rgba(0,0,0,0.9)" stroke-width="1.2"/>
<circle cx="536.5" cy="157.2" r="3.45" fill="rgba(255,127,0,0.5)" stroke="rgba(0,0,0,0.9)" stroke-width="1.2"/>
<circle cx="536.5" cy="163.6" r="3.45" fill="rgba(255,127,0,0.5)" stroke="rgba(0,0,0,0.9)" stroke-width="1.2"/>
<circle cx="536.5" cy="163.6" r="3.45" fill="rgba(255,127,0,0.5)" stroke="rgba(0,0,0,0.9)" stroke-width="1.2"/>
<circle cx="536.5" cy="165.6" r="3.45" fill="rgba(255,127,0,0.5)" stroke="rgba(0,0,0,0.9)" stroke-width="1.2"/>
<circle cx="536.5" cy="169.9" r="3.45" fill="rgba(255,127,0,0.5)" stroke="rgba(0,0,0,0.9)" stroke-width="1.2"/>
<line x1="557.2" x2="557.2" y1="116.9" y2="125.8" stroke="#000" stroke-width="1.5"/>
<line x1="557.2" x2="557.2" y1="164.6" y2="180.5" stroke="#000" stroke-width="1.5"/>
<rect x="549.4" y="125.8" width="15.6" height="38.8" fill="#fff" stroke="#000" stroke-width="1.5"/>
<line x1="549.4" x2="565.0" y1="147.7" y2="147.7" stroke="#000" stroke-width="3"/>
<circle cx="557.2" cy="116.9" r="3.45" fill="rgba(255,127,0,0.5)" stroke="rgba(0,0,0,0.9)" stroke-width="1.2"/>
<circle cx="557.2" cy="125.8" r="3.45" fill="rgba(255,127,0,0.5)" stroke="rgba(0,0,0,0.9)" stroke-width="1.2"/>
<circle cx="557.2" cy="125.8" r="3.45" fill="rgba(255,127,0,0.5)" stroke="rgba(0,0,0,0.9)" stroke-width="1.2"/>
<circle cx="557.2" cy="136.8" r="3.45" fill="rgba(255,127,0,0.5)" stroke="rgba(0,0,0,0.9)" stroke-width="1.2"/>
<circle cx="557.2" cy="147.7" r="3.45" fill="rgba(255,127,0,0.5)" stroke="rgba(0,0,0,0.9)" stroke-width="1.2"/>
<circle cx="557.2" cy="147.7" r="3.45" fill="rgba(255,127,0,0.5)" stroke="rgba(0,0,0,0.9)" stroke-width="1.2"/>
<circle cx="557.2" cy="149.3" r="3.45" fill="rgba(255,127,0,0.5)" stroke="rgba(0,0,0,0.9)" stroke-width="1.2"/>
<circle cx="557.2" cy="164.6" r="3.45" fill="rgba(255,127,0,0.5)" stroke="rgba(0,0,0,0.9)" stroke-width="1.2"/>
<circle cx="557.2" cy="164.6" r="3.45" fill="rgba(255,127,0,0.5)" stroke="rgba(0,0,0,0.9)" stroke-width="1.2"/>
<circle cx="557.2" cy="167.2" r="3.45" fill="rgba(255,127,0,0.5)" stroke="rgba(0,0,0,0.9)" stroke-width="1.2"/>
<circle cx="557.2" cy="180.5" r="3.45" fill="rgba(255,127,0,0.5)" stroke="rgba(0,0,0,0.9)" stroke-width="1.2"/>
<line x1="578.0" x2="578.0" y1="141.7" y2="145.7" stroke="#000" stroke-width="1.5"/>
<line x1="578.0" x2="578.0" y1="164.6" y2="167.2" stroke="#000" stroke-width="1.5"/>
<rect x="570.2" y="145.7" width="15.6" height="18.9" fill="#fff" stroke="#000" stroke-width="1.5"/>
<line x1="570.2" x2="585.8" y1="158.1" y2="158.1" stroke="#000" stroke-width="3"/>
<circle cx="578.0" cy="141.7" r="3.45" fill="rgba(255,127,0,0.5)" stroke="rgba(0,0,0,0.9)" stroke-width="1.2"/>
<circle cx="578.0" cy="144.1" r="3.45" fill="rgba(255,127,0,0.5)" stroke="rgba(0,0,0,0.9)" stroke-width="1.2"/>
<circle cx="578.0" cy="157.6" r="3.45" fill="rgba(255,127,0,0.5)" stroke="rgba(0,0,0,0.9)" stroke-width="1.2"/>
<circle cx="578.0" cy="159.6" r="3.45" fill="rgba(255,127,0,0.5)" stroke="rgba(0,0,0,0.9)" stroke-width="1.2"/>
<circle cx="578.0" cy="164.6" r="3.45" fill="rgba(255,127,0,0.5)" stroke="rgba(0,0,0,0.9)" stroke-width="1.2"/>
<circle cx="578.0" cy="167.2" r="3.45" fill="rgba(255,127,0,0.5)" stroke="rgba(0,0,0,0.9)" stroke-width="1.2"/>
<line x1="598.7" x2="598.7" y1="136.2" y2="142.7" stroke="#000" stroke-width="1.5"/>
<line x1="598.7" x2="598.7" y1="166.6" y2="178.5" stroke="#000" stroke-width="1.5"/>
<rect x="590.9" y="142.7" width="15.6" height="23.9" fill="#fff" stroke="#000" stroke-width="1.5"/>
<line x1="590.9" x2="606.5" y1="145.3" y2="145.3" stroke="#000" stroke-width="3"/>
<circle cx="598.7" cy="136.2" r="3.45" fill="rgba(255,127,0,0.5)" stroke="rgba(0,0,0,0.9)" stroke-width="1.2"/>
<circle cx="598.7" cy="141.7" r="3.45" fill="rgba(255,127,0,0.5)" stroke="rgba(0,0,0,0.9)" stroke-width="1.2"/>
<circle cx="598.7" cy="144.7" r="3.45" fill="rgba(255,127,0,0.5)" stroke="rgba(0,0,0,0.9)" stroke-width="1.2"/>
<circle cx="598.7" cy="152.1" r="3.45" fill="rgba(255,127,0,0.5)" stroke="rgba(0,0,0,0.9)" stroke-width="1.2"/>
<circle cx="598.7" cy="165.6" r="3.45" fill="rgba(255,127,0,0.5)" stroke="rgba(0,0,0,0.9)" stroke-width="1.2"/>
<circle cx="598.7" cy="167.6" r="3.45" fill="rgba(255,127,0,0.5)" stroke="rgba(0,0,0,0.9)" stroke-width="1.2"/>
<circle cx="598.7" cy="175.1" r="3.45" fill="rgba(255,127,0,0.5)" stroke="rgba(0,0,0,0.9)" stroke-width="1.2"/>
<circle cx="598.7" cy="178.5" r="3.45" fill="rgba(255,127,0,0.5)" stroke="rgba(0,0,0,0.9)" stroke-width="1.2"/>
<line x1="619.5" x2="619.5" y1="129.1" y2="136.8" stroke="#000" stroke-width="1.5"/>
<line x1="619.5" x2="619.5" y1="157.9" y2="168.5" stroke="#000" stroke-width="1.5"/>
<rect x="611.7" y="136.8" width="15.6" height="21.1" fill="#fff" stroke="#000" stroke-width="1.5"/>
<line x1="611.7" x2="627.3" y1="147.8" y2="147.8" stroke="#000" stroke-width="3"/>
<circle cx="619.5" cy="129.1" r="3.45" fill="rgba(255,127,0,0.5)" stroke="rgba(0,0,0,0.9)" stroke-width="1.2"/>
<circle cx="619.5" cy="136.5" r="3.45" fill="rgba(255,127,0,0.5)" stroke="rgba(0,0,0,0.9)" stroke-width="1.2"/>
<circle cx="619.5" cy="138.5" r="3.45" fill="rgba(255,127,0,0.5)" stroke="rgba(0,0,0,0.9)" stroke-width="1.2"/>
<circle cx="619.5" cy="140.5" r="3.45" fill="rgba(255,127,0,0.5)" stroke="rgba(0,0,0,0.9)" stroke-width="1.2"/>
<circle cx="619.5" cy="147.7" r="3.45" fill="rgba(255,127,0,0.5)" stroke="rgba(0,0,0,0.9)" stroke-width="1.2"/>
<circle cx="619.5" cy="148.5" r="3.45" fill="rgba(255,127,0,0.5)" stroke="rgba(0,0,0,0.9)" stroke-width="1.2"/>
<circle cx="619.5" cy="157.6" r="3.45" fill="rgba(255,127,0,0.5)" stroke="rgba(0,0,0,0.9)" stroke-width="1.2"/>
<circle cx="619.5" cy="158.5" r="3.45" fill="rgba(255,127,0,0.5)" stroke="rgba(0,0,0,0.9)" stroke-width="1.2"/>
<circle cx="619.5" cy="168.5" r="3.45" fill="rgba(255,127,0,0.5)" stroke="rgba(0,0,0,0.9)" stroke-width="1.2"/>
<line x1="640.3" x2="640.3" y1="96.9" y2="107.5" stroke="#000" stroke-width="1.5"/>
<line x1="640.3" x2="640.3" y1="137.7" y2="159.0" stroke="#000" stroke-width="1.5"/>
<rect x="632.5" y="107.5" width="15.6" height="30.2" fill="#fff" stroke="#000" stroke-width="1.5"/>
<line x1="632.5" x2="648.1" y1="114.6" y2="114.6" stroke="#000" stroke-width="3"/>
<circle cx="640.3" cy="96.9" r="3.45" fill="rgba(255,127,0,0.5)" stroke="rgba(0,0,0,0.9)" stroke-width="1.2"/>
<circle cx="640.3" cy="104.0" r="3.45" fill="rgba(255,127,0,0.5)" stroke="rgba(0,0,0,0.9)" stroke-width="1.2"/>
<circle cx="640.3" cy="106.6" r="3.45" fill="rgba(255,127,0,0.5)" stroke="rgba(0,0,0,0.9)" stroke-width="1.2"/>
<circle cx="640.3" cy="110.2" r="3.45" fill="rgba(255,127,0,0.5)" stroke="rgba(0,0,0,0.9)" stroke-width="1.2"/>
<circle cx="640.3" cy="112.8" r="3.45" fill="rgba(255,127,0,0.5)" stroke="rgba(0,0,0,0.9)" stroke-width="1.2"/>
<circle cx="640.3" cy="114.6" r="3.45" fill="rgba(255,127,0,0.5)" stroke="rgba(0,0,0,0.9)" stroke-width="1.2"/>
<circle cx="640.3" cy="131.5" r="3.45" fill="rgba(255,127,0,0.5)" stroke="rgba(0,0,0,0.9)" stroke-width="1.2"/>
<circle cx="640.3" cy="136.8" r="3.45" fill="rgba(255,127,0,0.5)" stroke="rgba(0,0,0,0.9)" stroke-width="1.2"/>
<circle cx="640.3" cy="156.3" r="3.45" fill="rgba(255,127,0,0.5)" stroke="rgba(0,0,0,0.9)" stroke-width="1.2"/>
<circle cx="640.3" cy="159.0" r="3.45" fill="rgba(255,127,0,0.5)" stroke="rgba(0,0,0,0.9)" stroke-width="1.2"/>
<line x1="661.0" x2="661.0" y1="101.3" y2="106.3" stroke="#000" stroke-width="1.5"/>
<line x1="661.0" x2="661.0" y1="125.8" y2="129.7" stroke="#000" stroke-width="1.5"/>
<rect x="653.2" y="106.3" width="15.6" height="19.5" fill="#fff" stroke="#000" stroke-width="1.5"/>
<line x1="653.2" x2="668.8" y1="115.5" y2="115.5" stroke="#000" stroke-width="3"/>
<circle cx="661.0" cy="101.3" r="3.45" fill="rgba(255,127,0,0.5)" stroke="rgba(0,0,0,0.9)" stroke-width="1.2"/>
<circle cx="661.0" cy="103.1" r="3.45" fill="rgba(255,127,0,0.5)" stroke="rgba(0,0,0,0.9)" stroke-width="1.2"/>
<circle cx="661.0" cy="105.7" r="3.45" fill="rgba(255,127,0,0.5)" stroke="rgba(0,0,0,0.9)" stroke-width="1.2"/>
<circle cx="661.0" cy="113.7" r="3.45" fill="rgba(255,127,0,0.5)" stroke="rgba(0,0,0,0.9)" stroke-width="1.2"/>
<circle cx="661.0" cy="114.6" r="3.45" fill="rgba(255,127,0,0.5)" stroke="rgba(0,0,0,0.9)" stroke-width="1.2"/>
<circle cx="661.0" cy="115.5" r="3.45" fill="rgba(255,127,0,0.5)" stroke="rgba(0,0,0,0.9)" stroke-width="1.2"/>
<circle cx="661.0" cy="125.3" r="3.45" fill="rgba(255,127,0,0.5)" stroke="rgba(0,0,0,0.9)" stroke-width="1.2"/>
<circle cx="661.0" cy="127.9" r="3.45" fill="rgba(255,127,0,0.5)" stroke="rgba(0,0,0,0.9)" stroke-width="1.2"/>
<circle cx="661.0" cy="129.7" r="3.45" fill="rgba(255,127,0,0.5)" stroke="rgba(0,0,0,0.9)" stroke-width="1.2"/>
<path d="M536.5,45.5 V42.2 H661.0 V45.5" fill="none" stroke="#000" stroke-width="1.5"/>
<circle cx="594.2" cy="36.3" r="1.5" fill="#5a5a5a"/>
<circle cx="598.7" cy="36.3" r="1.5" fill="#5a5a5a"/>
<circle cx="603.2" cy="36.3" r="1.5" fill="#5a5a5a"/>
<path d="M536.5,54.5 V51.2 H640.3 V54.5" fill="none" stroke="#000" stroke-width="1.5"/>
<circle cx="586.1" cy="45.3" r="1.5" fill="#5a5a5a"/>
<circle cx="590.6" cy="45.3" r="1.5" fill="#5a5a5a"/>
<rect x="524.5" y="27.5" width="148.5" height="168.7" fill="none" stroke="#333333" stroke-width="1.1"/>
<line x1="536.5" x2="536.5" y1="196.2" y2="200.6" stroke="#333333" stroke-width="1.3"/>
<text x="536.5" y="212.9" text-anchor="middle" font-size="13.5" fill="#4d4d4d">B1</text>
<line x1="557.2" x2="557.2" y1="196.2" y2="200.6" stroke="#333333" stroke-width="1.3"/>
<text x="557.2" y="212.9" text-anchor="middle" font-size="13.5" fill="#4d4d4d">B2</text>
<line x1="578.0" x2="578.0" y1="196.2" y2="200.6" stroke="#333333" stroke-width="1.3"/>
<text x="578.0" y="212.9" text-anchor="middle" font-size="13.5" fill="#4d4d4d">B3</text>
<line x1="598.7" x2="598.7" y1="196.2" y2="200.6" stroke="#333333" stroke-width="1.3"/>
<text x="598.7" y="212.9" text-anchor="middle" font-size="13.5" fill="#4d4d4d">B4</text>
<line x1="619.5" x2="619.5" y1="196.2" y2="200.6" stroke="#333333" stroke-width="1.3"/>
<text x="619.5" y="212.9" text-anchor="middle" font-size="13.5" fill="#4d4d4d">B5</text>
<line x1="640.3" x2="640.3" y1="196.2" y2="200.6" stroke="#333333" stroke-width="1.3"/>
<text x="640.3" y="212.9" text-anchor="middle" font-size="13.5" fill="#4d4d4d">B6</text>
<line x1="661.0" x2="661.0" y1="196.2" y2="200.6" stroke="#333333" stroke-width="1.3"/>
<text x="661.0" y="212.9" text-anchor="middle" font-size="13.5" fill="#4d4d4d">B7</text>
<rect x="50.5" y="251" width="112.1" height="24.2" fill="#d9d9d9"/>
<text x="106.5" y="268.3" text-anchor="middle" font-size="14" font-weight="bold" fill="#1a1a1a">Con.</text>
<circle cx="66.1" cy="316.5" r="3.45" fill="rgba(0,0,0,0.5)" stroke="rgba(0,0,0,0.9)" stroke-width="1.2"/>
<circle cx="71.7" cy="322.7" r="3.45" fill="rgba(0,0,0,0.5)" stroke="rgba(0,0,0,0.9)" stroke-width="1.2"/>
<circle cx="91.3" cy="317.6" r="3.45" fill="rgba(0,0,0,0.5)" stroke="rgba(0,0,0,0.9)" stroke-width="1.2"/>
<circle cx="101.6" cy="321.7" r="3.45" fill="rgba(0,0,0,0.5)" stroke="rgba(0,0,0,0.9)" stroke-width="1.2"/>
<circle cx="61.4" cy="328.5" r="3.45" fill="rgba(0,0,0,0.5)" stroke="rgba(0,0,0,0.9)" stroke-width="1.2"/>
<circle cx="80.0" cy="327.9" r="3.45" fill="rgba(0,0,0,0.5)" stroke="rgba(0,0,0,0.9)" stroke-width="1.2"/>
<circle cx="80.0" cy="330.6" r="3.45" fill="rgba(0,0,0,0.5)" stroke="rgba(0,0,0,0.9)" stroke-width="1.2"/>
<circle cx="107.8" cy="327.9" r="3.45" fill="rgba(0,0,0,0.5)" stroke="rgba(0,0,0,0.9)" stroke-width="1.2"/>
<circle cx="118.2" cy="325.8" r="3.45" fill="rgba(0,0,0,0.5)" stroke="rgba(0,0,0,0.9)" stroke-width="1.2"/>
<circle cx="126.4" cy="335.5" r="3.45" fill="rgba(0,0,0,0.5)" stroke="rgba(0,0,0,0.9)" stroke-width="1.2"/>
<circle cx="87.2" cy="338.2" r="3.45" fill="rgba(0,0,0,0.5)" stroke="rgba(0,0,0,0.9)" stroke-width="1.2"/>
<circle cx="93.4" cy="334.7" r="3.45" fill="rgba(0,0,0,0.5)" stroke="rgba(0,0,0,0.9)" stroke-width="1.2"/>
<circle cx="99.6" cy="338.2" r="3.45" fill="rgba(0,0,0,0.5)" stroke="rgba(0,0,0,0.9)" stroke-width="1.2"/>
<circle cx="102.7" cy="337.2" r="3.45" fill="rgba(0,0,0,0.5)" stroke="rgba(0,0,0,0.9)" stroke-width="1.2"/>
<circle cx="104.7" cy="341.3" r="3.45" fill="rgba(0,0,0,0.5)" stroke="rgba(0,0,0,0.9)" stroke-width="1.2"/>
<circle cx="106.8" cy="333.0" r="3.45" fill="rgba(0,0,0,0.5)" stroke="rgba(0,0,0,0.9)" stroke-width="1.2"/>
<circle cx="97.5" cy="341.3" r="3.45" fill="rgba(0,0,0,0.5)" stroke="rgba(0,0,0,0.9)" stroke-width="1.2"/>
<circle cx="67.6" cy="341.3" r="3.45" fill="rgba(0,0,0,0.5)" stroke="rgba(0,0,0,0.9)" stroke-width="1.2"/>
<circle cx="59.3" cy="345.9" r="3.45" fill="rgba(0,0,0,0.5)" stroke="rgba(0,0,0,0.9)" stroke-width="1.2"/>
<circle cx="62.4" cy="345.0" r="3.45" fill="rgba(0,0,0,0.5)" stroke="rgba(0,0,0,0.9)" stroke-width="1.2"/>
<circle cx="80.0" cy="346.5" r="3.45" fill="rgba(0,0,0,0.5)" stroke="rgba(0,0,0,0.9)" stroke-width="1.2"/>
<circle cx="89.2" cy="346.5" r="3.45" fill="rgba(0,0,0,0.5)" stroke="rgba(0,0,0,0.9)" stroke-width="1.2"/>
<circle cx="94.4" cy="348.5" r="3.45" fill="rgba(0,0,0,0.5)" stroke="rgba(0,0,0,0.9)" stroke-width="1.2"/>
<circle cx="106.8" cy="349.6" r="3.45" fill="rgba(0,0,0,0.5)" stroke="rgba(0,0,0,0.9)" stroke-width="1.2"/>
<circle cx="110.9" cy="350.6" r="3.45" fill="rgba(0,0,0,0.5)" stroke="rgba(0,0,0,0.9)" stroke-width="1.2"/>
<circle cx="75.8" cy="352.7" r="3.45" fill="rgba(0,0,0,0.5)" stroke="rgba(0,0,0,0.9)" stroke-width="1.2"/>
<circle cx="80.0" cy="354.7" r="3.45" fill="rgba(0,0,0,0.5)" stroke="rgba(0,0,0,0.9)" stroke-width="1.2"/>
<circle cx="91.3" cy="353.7" r="3.45" fill="rgba(0,0,0,0.5)" stroke="rgba(0,0,0,0.9)" stroke-width="1.2"/>
<circle cx="98.5" cy="355.8" r="3.45" fill="rgba(0,0,0,0.5)" stroke="rgba(0,0,0,0.9)" stroke-width="1.2"/>
<circle cx="108.9" cy="354.7" r="3.45" fill="rgba(0,0,0,0.5)" stroke="rgba(0,0,0,0.9)" stroke-width="1.2"/>
<circle cx="120.2" cy="354.7" r="3.45" fill="rgba(0,0,0,0.5)" stroke="rgba(0,0,0,0.9)" stroke-width="1.2"/>
<circle cx="67.6" cy="356.2" r="3.45" fill="rgba(0,0,0,0.5)" stroke="rgba(0,0,0,0.9)" stroke-width="1.2"/>
<circle cx="93.4" cy="358.9" r="3.45" fill="rgba(0,0,0,0.5)" stroke="rgba(0,0,0,0.9)" stroke-width="1.2"/>
<circle cx="97.5" cy="359.9" r="3.45" fill="rgba(0,0,0,0.5)" stroke="rgba(0,0,0,0.9)" stroke-width="1.2"/>
<circle cx="135.7" cy="361.6" r="3.45" fill="rgba(0,0,0,0.5)" stroke="rgba(0,0,0,0.9)" stroke-width="1.2"/>
<circle cx="62.4" cy="363.0" r="3.45" fill="rgba(0,0,0,0.5)" stroke="rgba(0,0,0,0.9)" stroke-width="1.2"/>
<circle cx="62.4" cy="367.1" r="3.45" fill="rgba(0,0,0,0.5)" stroke="rgba(0,0,0,0.9)" stroke-width="1.2"/>
<circle cx="75.8" cy="362.0" r="3.45" fill="rgba(0,0,0,0.5)" stroke="rgba(0,0,0,0.9)" stroke-width="1.2"/>
<circle cx="78.9" cy="363.0" r="3.45" fill="rgba(0,0,0,0.5)" stroke="rgba(0,0,0,0.9)" stroke-width="1.2"/>
<circle cx="84.1" cy="362.0" r="3.45" fill="rgba(0,0,0,0.5)" stroke="rgba(0,0,0,0.9)" stroke-width="1.2"/>
<circle cx="70.7" cy="368.2" r="3.45" fill="rgba(0,0,0,0.5)" stroke="rgba(0,0,0,0.9)" stroke-width="1.2"/>
<circle cx="78.9" cy="367.1" r="3.45" fill="rgba(0,0,0,0.5)" stroke="rgba(0,0,0,0.9)" stroke-width="1.2"/>
<circle cx="85.1" cy="369.2" r="3.45" fill="rgba(0,0,0,0.5)" stroke="rgba(0,0,0,0.9)" stroke-width="1.2"/>
<circle cx="90.3" cy="371.3" r="3.45" fill="rgba(0,0,0,0.5)" stroke="rgba(0,0,0,0.9)" stroke-width="1.2"/>
<circle cx="94.4" cy="374.4" r="3.45" fill="rgba(0,0,0,0.5)" stroke="rgba(0,0,0,0.9)" stroke-width="1.2"/>
<circle cx="100.6" cy="370.2" r="3.45" fill="rgba(0,0,0,0.5)" stroke="rgba(0,0,0,0.9)" stroke-width="1.2"/>
<circle cx="103.7" cy="372.3" r="3.45" fill="rgba(0,0,0,0.5)" stroke="rgba(0,0,0,0.9)" stroke-width="1.2"/>
<circle cx="121.3" cy="367.1" r="3.45" fill="rgba(0,0,0,0.5)" stroke="rgba(0,0,0,0.9)" stroke-width="1.2"/>
<circle cx="66.5" cy="379.5" r="3.45" fill="rgba(0,0,0,0.5)" stroke="rgba(0,0,0,0.9)" stroke-width="1.2"/>
<circle cx="97.5" cy="381.6" r="3.45" fill="rgba(0,0,0,0.5)" stroke="rgba(0,0,0,0.9)" stroke-width="1.2"/>
<circle cx="138.8" cy="397.1" r="3.45" fill="rgba(0,0,0,0.5)" stroke="rgba(0,0,0,0.9)" stroke-width="1.2"/>
<circle cx="124.6" cy="373.8" r="3.45" fill="rgba(0,0,0,0.5)" stroke="rgba(0,0,0,0.9)" stroke-width="1.2"/>
<circle cx="127.2" cy="375.3" r="3.45" fill="rgba(0,0,0,0.5)" stroke="rgba(0,0,0,0.9)" stroke-width="1.2"/>
<circle cx="129.8" cy="372.2" r="3.45" fill="rgba(0,0,0,0.5)" stroke="rgba(0,0,0,0.9)" stroke-width="1.2"/>
<circle cx="132.9" cy="372.2" r="3.45" fill="rgba(0,0,0,0.5)" stroke="rgba(0,0,0,0.9)" stroke-width="1.2"/>
<circle cx="136.0" cy="374.8" r="3.45" fill="rgba(0,0,0,0.5)" stroke="rgba(0,0,0,0.9)" stroke-width="1.2"/>
<circle cx="139.1" cy="374.3" r="3.45" fill="rgba(0,0,0,0.5)" stroke="rgba(0,0,0,0.9)" stroke-width="1.2"/>
<circle cx="125.7" cy="381.0" r="3.45" fill="rgba(0,0,0,0.5)" stroke="rgba(0,0,0,0.9)" stroke-width="1.2"/>
<circle cx="128.3" cy="382.1" r="3.45" fill="rgba(0,0,0,0.5)" stroke="rgba(0,0,0,0.9)" stroke-width="1.2"/>
<circle cx="128.3" cy="382.1" r="3.45" fill="rgba(0,0,0,0.5)" stroke="rgba(0,0,0,0.9)" stroke-width="1.2"/>
<circle cx="131.9" cy="381.0" r="3.45" fill="rgba(0,0,0,0.5)" stroke="rgba(0,0,0,0.9)" stroke-width="1.2"/>
<circle cx="131.9" cy="381.0" r="3.45" fill="rgba(0,0,0,0.5)" stroke="rgba(0,0,0,0.9)" stroke-width="1.2"/>
<circle cx="135.0" cy="383.1" r="3.45" fill="rgba(0,0,0,0.5)" stroke="rgba(0,0,0,0.9)" stroke-width="1.2"/>
<circle cx="120.5" cy="384.1" r="3.45" fill="rgba(0,0,0,0.5)" stroke="rgba(0,0,0,0.9)" stroke-width="1.2"/>
<path d="M59.8,323.0 L61.4,324.5 L63.1,325.3 L64.7,326.0 L66.3,327.1 L68.0,328.1 L69.6,329.1 L71.2,330.1 L72.9,331.1 L74.5,332.1 L76.2,333.2 L77.8,334.2 L79.4,335.2 L81.1,336.2 L82.7,337.3 L84.3,338.3 L86.0,339.3 L87.6,340.4 L89.2,341.4 L90.9,342.4 L92.5,343.3 L94.1,344.3 L95.8,345.1 L97.4,345.9 L99.0,346.7 L100.7,347.4 L102.3,348.1 L103.9,348.7 L105.6,349.4 L107.2,350.1 L108.8,350.8 L110.5,351.5 L112.1,352.1 L113.8,352.7 L115.4,353.2 L117.0,353.7 L118.7,354.2 L120.3,354.6 L121.9,355.0 L123.6,355.4 L125.2,355.8 L126.8,356.2 L128.5,356.6 L130.1,357.0 L131.7,357.3 L133.4,357.5 L135.0,357.7 L136.6,357.8 L138.3,357.9 L139.9,357.9 L141.6,357.9 L143.2,357.9 L144.8,357.9 L146.5,357.9 L148.1,357.9 L149.7,357.9 L151.4,357.9 L153.0,357.9 L154.6,358.2 L156.3,358.5 L157.9,357.9 L157.9,392.2 L156.3,390.9 L154.6,390.2 L153.0,389.4 L151.4,388.5 L149.7,387.6 L148.1,386.6 L146.5,385.7 L144.8,384.8 L143.2,383.9 L141.6,382.9 L139.9,382.0 L138.3,381.1 L136.6,380.2 L135.0,379.3 L133.4,378.5 L131.7,377.7 L130.1,377.0 L128.5,376.2 L126.8,375.5 L125.2,374.8 L123.6,374.1 L121.9,373.4 L120.3,372.7 L118.7,372.0 L117.0,371.3 L115.4,370.7 L113.8,370.2 L112.1,369.6 L110.5,369.2 L108.8,368.7 L107.2,368.3 L105.6,367.8 L103.9,367.4 L102.3,367.0 L100.7,366.5 L99.0,366.1 L97.4,365.7 L95.8,365.2 L94.1,364.8 L92.5,364.3 L90.9,363.9 L89.2,363.5 L87.6,363.0 L86.0,362.6 L84.3,362.1 L82.7,361.7 L81.1,361.3 L79.4,360.8 L77.8,360.4 L76.2,359.9 L74.5,359.5 L72.9,359.1 L71.2,358.7 L69.6,358.2 L68.0,357.8 L66.3,357.4 L64.7,357.0 L63.1,356.5 L61.4,356.0 L59.8,355.7Z" fill="rgba(190,190,190,0.5)" stroke="none"/>
<line x1="59.8" y1="343" x2="157.9" y2="376.5" stroke="#bebebe" stroke-width="2.8"/>
<rect x="51.0" y="276.2" width="111.1" height="168.4" fill="none" stroke="#333333" stroke-width="1.1"/>
<text x="53.5" y="295.3" font-size="13" fill="#000" textLength="44.7" lengthAdjust="spacingAndGlyphs">m = −2.1</text><text x="109.8" y="295.3" font-size="13.5" font-style="italic" fill="#000">P</text><text x="119.1" y="295.3" font-size="13" fill="#000">=</text><text x="130.1" y="295.3" font-size="13.5" fill="#000" textLength="28.3" lengthAdjust="spacingAndGlyphs">0.008</text>
<line x1="55.4" x2="55.4" y1="444.6" y2="448.6" stroke="#333333" stroke-width="1.3"/>
<text x="55.4" y="461.6" text-anchor="middle" font-size="14" fill="#4d4d4d">0.91</text>
<line x1="157.5" x2="157.5" y1="444.6" y2="448.6" stroke="#333333" stroke-width="1.3"/>
<text x="157.5" y="461.6" text-anchor="middle" font-size="14" fill="#4d4d4d">1.00</text>
<rect x="179.4" y="251" width="112.1" height="24.2" fill="#d9d9d9"/>
<text x="235.4" y="268.3" text-anchor="middle" font-size="14" font-weight="bold" fill="#1a1a1a">BPA</text>
<circle cx="193.1" cy="304.1" r="3.45" fill="rgba(228,26,28,0.5)" stroke="rgba(0,0,0,0.9)" stroke-width="1.2"/>
<circle cx="188.1" cy="312.5" r="3.45" fill="rgba(228,26,28,0.5)" stroke="rgba(0,0,0,0.9)" stroke-width="1.2"/>
<circle cx="189.2" cy="314.1" r="3.45" fill="rgba(228,26,28,0.5)" stroke="rgba(0,0,0,0.9)" stroke-width="1.2"/>
<circle cx="204.0" cy="311.4" r="3.45" fill="rgba(228,26,28,0.5)" stroke="rgba(0,0,0,0.9)" stroke-width="1.2"/>
<circle cx="206.3" cy="309.5" r="3.45" fill="rgba(228,26,28,0.5)" stroke="rgba(0,0,0,0.9)" stroke-width="1.2"/>
<circle cx="222.2" cy="310.2" r="3.45" fill="rgba(228,26,28,0.5)" stroke="rgba(0,0,0,0.9)" stroke-width="1.2"/>
<circle cx="208.6" cy="316.4" r="3.45" fill="rgba(228,26,28,0.5)" stroke="rgba(0,0,0,0.9)" stroke-width="1.2"/>
<circle cx="207.4" cy="318.2" r="3.45" fill="rgba(228,26,28,0.5)" stroke="rgba(0,0,0,0.9)" stroke-width="1.2"/>
<circle cx="214.2" cy="319.3" r="3.45" fill="rgba(228,26,28,0.5)" stroke="rgba(0,0,0,0.9)" stroke-width="1.2"/>
<circle cx="217.7" cy="315.5" r="3.45" fill="rgba(228,26,28,0.5)" stroke="rgba(0,0,0,0.9)" stroke-width="1.2"/>
<circle cx="202.9" cy="322.7" r="3.45" fill="rgba(228,26,28,0.5)" stroke="rgba(0,0,0,0.9)" stroke-width="1.2"/>
<circle cx="194.9" cy="321.6" r="3.45" fill="rgba(228,26,28,0.5)" stroke="rgba(0,0,0,0.9)" stroke-width="1.2"/>
<circle cx="197.2" cy="331.4" r="3.45" fill="rgba(228,26,28,0.5)" stroke="rgba(0,0,0,0.9)" stroke-width="1.2"/>
<circle cx="188.1" cy="336.4" r="3.45" fill="rgba(228,26,28,0.5)" stroke="rgba(0,0,0,0.9)" stroke-width="1.2"/>
<circle cx="192.6" cy="342.1" r="3.45" fill="rgba(228,26,28,0.5)" stroke="rgba(0,0,0,0.9)" stroke-width="1.2"/>
<circle cx="207.4" cy="337.5" r="3.45" fill="rgba(228,26,28,0.5)" stroke="rgba(0,0,0,0.9)" stroke-width="1.2"/>
<circle cx="189.2" cy="347.7" r="3.45" fill="rgba(228,26,28,0.5)" stroke="rgba(0,0,0,0.9)" stroke-width="1.2"/>
<circle cx="191.5" cy="354.6" r="3.45" fill="rgba(228,26,28,0.5)" stroke="rgba(0,0,0,0.9)" stroke-width="1.2"/>
<circle cx="198.3" cy="353.4" r="3.45" fill="rgba(228,26,28,0.5)" stroke="rgba(0,0,0,0.9)" stroke-width="1.2"/>
<circle cx="202.9" cy="349.6" r="3.45" fill="rgba(228,26,28,0.5)" stroke="rgba(0,0,0,0.9)" stroke-width="1.2"/>
<circle cx="210.8" cy="355.7" r="3.45" fill="rgba(228,26,28,0.5)" stroke="rgba(0,0,0,0.9)" stroke-width="1.2"/>
<circle cx="208.6" cy="359.6" r="3.45" fill="rgba(228,26,28,0.5)" stroke="rgba(0,0,0,0.9)" stroke-width="1.2"/>
<circle cx="210.8" cy="363.7" r="3.45" fill="rgba(228,26,28,0.5)" stroke="rgba(0,0,0,0.9)" stroke-width="1.2"/>
<circle cx="271.1" cy="366.4" r="3.45" fill="rgba(228,26,28,0.5)" stroke="rgba(0,0,0,0.9)" stroke-width="1.2"/>
<circle cx="208.6" cy="371.6" r="3.45" fill="rgba(228,26,28,0.5)" stroke="rgba(0,0,0,0.9)" stroke-width="1.2"/>
<circle cx="208.6" cy="371.6" r="3.45" fill="rgba(228,26,28,0.5)" stroke="rgba(0,0,0,0.9)" stroke-width="1.2"/>
<circle cx="229.0" cy="373.9" r="3.45" fill="rgba(228,26,28,0.5)" stroke="rgba(0,0,0,0.9)" stroke-width="1.2"/>
<circle cx="229.0" cy="378.4" r="3.45" fill="rgba(228,26,28,0.5)" stroke="rgba(0,0,0,0.9)" stroke-width="1.2"/>
<circle cx="257.4" cy="375.5" r="3.45" fill="rgba(228,26,28,0.5)" stroke="rgba(0,0,0,0.9)" stroke-width="1.2"/>
<circle cx="260.9" cy="378.4" r="3.45" fill="rgba(228,26,28,0.5)" stroke="rgba(0,0,0,0.9)" stroke-width="1.2"/>
<circle cx="263.1" cy="379.6" r="3.45" fill="rgba(228,26,28,0.5)" stroke="rgba(0,0,0,0.9)" stroke-width="1.2"/>
<circle cx="248.3" cy="381.9" r="3.45" fill="rgba(228,26,28,0.5)" stroke="rgba(0,0,0,0.9)" stroke-width="1.2"/>
<circle cx="249.5" cy="383.7" r="3.45" fill="rgba(228,26,28,0.5)" stroke="rgba(0,0,0,0.9)" stroke-width="1.2"/>
<circle cx="255.9" cy="400.5" r="3.45" fill="rgba(228,26,28,0.5)" stroke="rgba(0,0,0,0.9)" stroke-width="1.2"/>
<circle cx="231.0" cy="334.5" r="3.45" fill="rgba(228,26,28,0.5)" stroke="rgba(0,0,0,0.9)" stroke-width="1.2"/>
<circle cx="221.3" cy="338.7" r="3.45" fill="rgba(228,26,28,0.5)" stroke="rgba(0,0,0,0.9)" stroke-width="1.2"/>
<circle cx="225.9" cy="341.0" r="3.45" fill="rgba(228,26,28,0.5)" stroke="rgba(0,0,0,0.9)" stroke-width="1.2"/>
<circle cx="227.8" cy="341.9" r="3.45" fill="rgba(228,26,28,0.5)" stroke="rgba(0,0,0,0.9)" stroke-width="1.2"/>
<circle cx="237.1" cy="338.7" r="3.45" fill="rgba(228,26,28,0.5)" stroke="rgba(0,0,0,0.9)" stroke-width="1.2"/>
<circle cx="237.1" cy="341.0" r="3.45" fill="rgba(228,26,28,0.5)" stroke="rgba(0,0,0,0.9)" stroke-width="1.2"/>
<circle cx="230.6" cy="345.2" r="3.45" fill="rgba(228,26,28,0.5)" stroke="rgba(0,0,0,0.9)" stroke-width="1.2"/>
<circle cx="234.3" cy="346.6" r="3.45" fill="rgba(228,26,28,0.5)" stroke="rgba(0,0,0,0.9)" stroke-width="1.2"/>
<circle cx="236.2" cy="343.8" r="3.45" fill="rgba(228,26,28,0.5)" stroke="rgba(0,0,0,0.9)" stroke-width="1.2"/>
<circle cx="239.9" cy="348.0" r="3.45" fill="rgba(228,26,28,0.5)" stroke="rgba(0,0,0,0.9)" stroke-width="1.2"/>
<circle cx="246.9" cy="348.0" r="3.45" fill="rgba(228,26,28,0.5)" stroke="rgba(0,0,0,0.9)" stroke-width="1.2"/>
<circle cx="247.3" cy="350.3" r="3.45" fill="rgba(228,26,28,0.5)" stroke="rgba(0,0,0,0.9)" stroke-width="1.2"/>
<circle cx="253.8" cy="351.2" r="3.45" fill="rgba(228,26,28,0.5)" stroke="rgba(0,0,0,0.9)" stroke-width="1.2"/>
<circle cx="216.6" cy="343.8" r="3.45" fill="rgba(228,26,28,0.5)" stroke="rgba(0,0,0,0.9)" stroke-width="1.2"/>
<circle cx="220.4" cy="345.2" r="3.45" fill="rgba(228,26,28,0.5)" stroke="rgba(0,0,0,0.9)" stroke-width="1.2"/>
<circle cx="214.8" cy="350.3" r="3.45" fill="rgba(228,26,28,0.5)" stroke="rgba(0,0,0,0.9)" stroke-width="1.2"/>
<circle cx="220.4" cy="352.2" r="3.45" fill="rgba(228,26,28,0.5)" stroke="rgba(0,0,0,0.9)" stroke-width="1.2"/>
<circle cx="224.1" cy="350.3" r="3.45" fill="rgba(228,26,28,0.5)" stroke="rgba(0,0,0,0.9)" stroke-width="1.2"/>
<circle cx="229.7" cy="350.8" r="3.45" fill="rgba(228,26,28,0.5)" stroke="rgba(0,0,0,0.9)" stroke-width="1.2"/>
<circle cx="236.2" cy="351.2" r="3.45" fill="rgba(228,26,28,0.5)" stroke="rgba(0,0,0,0.9)" stroke-width="1.2"/>
<circle cx="244.5" cy="354.0" r="3.45" fill="rgba(228,26,28,0.5)" stroke="rgba(0,0,0,0.9)" stroke-width="1.2"/>
<circle cx="251.0" cy="354.9" r="3.45" fill="rgba(228,26,28,0.5)" stroke="rgba(0,0,0,0.9)" stroke-width="1.2"/>
<circle cx="221.3" cy="356.8" r="3.45" fill="rgba(228,26,28,0.5)" stroke="rgba(0,0,0,0.9)" stroke-width="1.2"/>
<circle cx="232.4" cy="357.7" r="3.45" fill="rgba(228,26,28,0.5)" stroke="rgba(0,0,0,0.9)" stroke-width="1.2"/>
<circle cx="238.0" cy="359.1" r="3.45" fill="rgba(228,26,28,0.5)" stroke="rgba(0,0,0,0.9)" stroke-width="1.2"/>
<circle cx="252.0" cy="358.7" r="3.45" fill="rgba(228,26,28,0.5)" stroke="rgba(0,0,0,0.9)" stroke-width="1.2"/>
<circle cx="219.4" cy="361.5" r="3.45" fill="rgba(228,26,28,0.5)" stroke="rgba(0,0,0,0.9)" stroke-width="1.2"/>
<circle cx="236.2" cy="362.9" r="3.45" fill="rgba(228,26,28,0.5)" stroke="rgba(0,0,0,0.9)" stroke-width="1.2"/>
<circle cx="240.8" cy="362.9" r="3.45" fill="rgba(228,26,28,0.5)" stroke="rgba(0,0,0,0.9)" stroke-width="1.2"/>
<circle cx="240.8" cy="362.9" r="3.45" fill="rgba(228,26,28,0.5)" stroke="rgba(0,0,0,0.9)" stroke-width="1.2"/>
<circle cx="261.3" cy="361.0" r="3.45" fill="rgba(228,26,28,0.5)" stroke="rgba(0,0,0,0.9)" stroke-width="1.2"/>
<circle cx="262.7" cy="362.9" r="3.45" fill="rgba(228,26,28,0.5)" stroke="rgba(0,0,0,0.9)" stroke-width="1.2"/>
<circle cx="228.7" cy="366.1" r="3.45" fill="rgba(228,26,28,0.5)" stroke="rgba(0,0,0,0.9)" stroke-width="1.2"/>
<circle cx="245.0" cy="370.8" r="3.45" fill="rgba(228,26,28,0.5)" stroke="rgba(0,0,0,0.9)" stroke-width="1.2"/>
<circle cx="213.9" cy="363.3" r="3.45" fill="rgba(228,26,28,0.5)" stroke="rgba(0,0,0,0.9)" stroke-width="1.2"/>
<circle cx="213.9" cy="356.8" r="3.45" fill="rgba(228,26,28,0.5)" stroke="rgba(0,0,0,0.9)" stroke-width="1.2"/>
<path d="M189.0,318.1 L190.6,319.3 L192.2,320.1 L193.8,321.0 L195.5,322.0 L197.1,322.9 L198.7,323.9 L200.3,324.8 L201.9,325.8 L203.6,326.8 L205.2,327.7 L206.8,328.7 L208.4,329.7 L210.0,330.6 L211.6,331.6 L213.2,332.5 L214.9,333.5 L216.5,334.4 L218.1,335.3 L219.7,336.3 L221.3,337.2 L222.9,338.1 L224.6,339.0 L226.2,340.0 L227.8,340.9 L229.4,341.8 L231.0,342.7 L232.7,343.6 L234.3,344.5 L235.9,345.4 L237.5,346.2 L239.1,347.0 L240.7,347.8 L242.3,348.6 L244.0,349.3 L245.6,350.0 L247.2,350.8 L248.8,351.5 L250.4,352.3 L252.1,353.0 L253.7,353.7 L255.3,354.5 L256.9,355.2 L258.5,355.9 L260.1,356.6 L261.8,357.2 L263.4,357.8 L265.0,358.3 L266.6,358.7 L268.2,359.1 L269.8,359.3 L271.4,359.5 L273.1,359.7 L274.7,359.7 L276.3,359.8 L277.9,359.9 L279.5,360.0 L281.1,360.1 L282.8,360.5 L284.4,360.9 L286.0,360.3 L286.0,395.9 L284.4,394.3 L282.8,393.4 L281.1,392.5 L279.5,391.3 L277.9,390.2 L276.3,389.0 L274.7,387.9 L273.1,386.7 L271.4,385.6 L269.8,384.5 L268.2,383.4 L266.6,382.3 L265.0,381.3 L263.4,380.3 L261.8,379.3 L260.1,378.3 L258.5,377.4 L256.9,376.5 L255.3,375.5 L253.7,374.6 L252.1,373.7 L250.4,372.8 L248.8,371.9 L247.2,370.9 L245.6,370.0 L244.0,369.1 L242.3,368.2 L240.7,367.3 L239.1,366.5 L237.5,365.7 L235.9,365.0 L234.3,364.4 L232.7,363.8 L231.0,363.3 L229.4,362.8 L227.8,362.3 L226.2,361.8 L224.6,361.3 L222.9,360.8 L221.3,360.3 L219.7,359.8 L218.1,359.3 L216.5,358.9 L214.9,358.4 L213.2,358.1 L211.6,357.7 L210.0,357.4 L208.4,357.1 L206.8,356.8 L205.2,356.4 L203.6,356.1 L201.9,355.8 L200.3,355.5 L198.7,355.2 L197.1,354.9 L195.5,354.6 L193.8,354.3 L192.2,353.8 L190.6,353.3 L189.0,353.4Z" fill="rgba(190,190,190,0.5)" stroke="none"/>
<line x1="189" y1="334.8" x2="286" y2="377.9" stroke="#bebebe" stroke-width="2.8"/>
<rect x="179.9" y="276.2" width="111.1" height="168.4" fill="none" stroke="#333333" stroke-width="1.1"/>
<text x="186.8" y="295.3" font-size="13" fill="#000" textLength="46.4" lengthAdjust="spacingAndGlyphs">m = −3.2</text><text x="243.6" y="295.3" font-size="13.5" font-style="italic" fill="#000">P</text><text x="252.9" y="295.3" font-size="13" fill="#000">=</text><text x="263.9" y="295.3" font-size="13.5" fill="#000" textLength="20.1" lengthAdjust="spacingAndGlyphs">0.01</text>
<line x1="184.3" x2="184.3" y1="444.6" y2="448.6" stroke="#333333" stroke-width="1.3"/>
<text x="184.3" y="461.6" text-anchor="middle" font-size="14" fill="#4d4d4d">0.91</text>
<line x1="286.4" x2="286.4" y1="444.6" y2="448.6" stroke="#333333" stroke-width="1.3"/>
<text x="286.4" y="461.6" text-anchor="middle" font-size="14" fill="#4d4d4d">1.00</text>
<rect x="308.3" y="251" width="112.1" height="24.2" fill="#d9d9d9"/>
<text x="364.4" y="268.3" text-anchor="middle" font-size="14" font-weight="bold" fill="#1a1a1a">TCS</text>
<circle cx="332.5" cy="364.2" r="3.45" fill="rgba(55,126,184,0.5)" stroke="rgba(0,0,0,0.9)" stroke-width="1.2"/>
<circle cx="339.5" cy="365.0" r="3.45" fill="rgba(55,126,184,0.5)" stroke="rgba(0,0,0,0.9)" stroke-width="1.2"/>
<circle cx="346.5" cy="365.8" r="3.45" fill="rgba(55,126,184,0.5)" stroke="rgba(0,0,0,0.9)" stroke-width="1.2"/>
<circle cx="352.5" cy="367.0" r="3.45" fill="rgba(55,126,184,0.5)" stroke="rgba(0,0,0,0.9)" stroke-width="1.2"/>
<circle cx="358.5" cy="366.0" r="3.45" fill="rgba(55,126,184,0.5)" stroke="rgba(0,0,0,0.9)" stroke-width="1.2"/>
<circle cx="326.5" cy="366.5" r="3.45" fill="rgba(55,126,184,0.5)" stroke="rgba(0,0,0,0.9)" stroke-width="1.2"/>
<circle cx="343.8" cy="371.2" r="3.45" fill="rgba(55,126,184,0.5)" stroke="rgba(0,0,0,0.9)" stroke-width="1.2"/>
<circle cx="329.0" cy="369.5" r="3.45" fill="rgba(55,126,184,0.5)" stroke="rgba(0,0,0,0.9)" stroke-width="1.2"/>
<circle cx="362.0" cy="370.5" r="3.45" fill="rgba(55,126,184,0.5)" stroke="rgba(0,0,0,0.9)" stroke-width="1.2"/>
<circle cx="370.5" cy="367.0" r="3.45" fill="rgba(55,126,184,0.5)" stroke="rgba(0,0,0,0.9)" stroke-width="1.2"/>
<circle cx="376.0" cy="368.5" r="3.45" fill="rgba(55,126,184,0.5)" stroke="rgba(0,0,0,0.9)" stroke-width="1.2"/>
<circle cx="350.5" cy="345.0" r="3.45" fill="rgba(55,126,184,0.5)" stroke="rgba(0,0,0,0.9)" stroke-width="1.2"/>
<circle cx="364.0" cy="347.0" r="3.45" fill="rgba(55,126,184,0.5)" stroke="rgba(0,0,0,0.9)" stroke-width="1.2"/>
<circle cx="371.0" cy="343.5" r="3.45" fill="rgba(55,126,184,0.5)" stroke="rgba(0,0,0,0.9)" stroke-width="1.2"/>
<circle cx="381.0" cy="345.0" r="3.45" fill="rgba(55,126,184,0.5)" stroke="rgba(0,0,0,0.9)" stroke-width="1.2"/>
<circle cx="318.0" cy="332.9" r="3.45" fill="rgba(55,126,184,0.5)" stroke="rgba(0,0,0,0.9)" stroke-width="1.2"/>
<circle cx="327.3" cy="328.3" r="3.45" fill="rgba(55,126,184,0.5)" stroke="rgba(0,0,0,0.9)" stroke-width="1.2"/>
<circle cx="328.6" cy="332.5" r="3.45" fill="rgba(55,126,184,0.5)" stroke="rgba(0,0,0,0.9)" stroke-width="1.2"/>
<circle cx="334.8" cy="334.5" r="3.45" fill="rgba(55,126,184,0.5)" stroke="rgba(0,0,0,0.9)" stroke-width="1.2"/>
<circle cx="337.3" cy="331.2" r="3.45" fill="rgba(55,126,184,0.5)" stroke="rgba(0,0,0,0.9)" stroke-width="1.2"/>
<circle cx="341.4" cy="332.5" r="3.45" fill="rgba(55,126,184,0.5)" stroke="rgba(0,0,0,0.9)" stroke-width="1.2"/>
<circle cx="345.1" cy="331.6" r="3.45" fill="rgba(55,126,184,0.5)" stroke="rgba(0,0,0,0.9)" stroke-width="1.2"/>
<circle cx="347.2" cy="325.4" r="3.45" fill="rgba(55,126,184,0.5)" stroke="rgba(0,0,0,0.9)" stroke-width="1.2"/>
<circle cx="347.2" cy="325.4" r="3.45" fill="rgba(55,126,184,0.5)" stroke="rgba(0,0,0,0.9)" stroke-width="1.2"/>
<circle cx="349.2" cy="337.8" r="3.45" fill="rgba(55,126,184,0.5)" stroke="rgba(0,0,0,0.9)" stroke-width="1.2"/>
<circle cx="316.6" cy="342.0" r="3.45" fill="rgba(55,126,184,0.5)" stroke="rgba(0,0,0,0.9)" stroke-width="1.2"/>
<circle cx="321.6" cy="346.1" r="3.45" fill="rgba(55,126,184,0.5)" stroke="rgba(0,0,0,0.9)" stroke-width="1.2"/>
<circle cx="324.5" cy="345.3" r="3.45" fill="rgba(55,126,184,0.5)" stroke="rgba(0,0,0,0.9)" stroke-width="1.2"/>
<circle cx="331.1" cy="342.4" r="3.45" fill="rgba(55,126,184,0.5)" stroke="rgba(0,0,0,0.9)" stroke-width="1.2"/>
<circle cx="341.0" cy="341.1" r="3.45" fill="rgba(55,126,184,0.5)" stroke="rgba(0,0,0,0.9)" stroke-width="1.2"/>
<circle cx="343.9" cy="342.0" r="3.45" fill="rgba(55,126,184,0.5)" stroke="rgba(0,0,0,0.9)" stroke-width="1.2"/>
<circle cx="341.0" cy="347.3" r="3.45" fill="rgba(55,126,184,0.5)" stroke="rgba(0,0,0,0.9)" stroke-width="1.2"/>
<circle cx="333.5" cy="351.4" r="3.45" fill="rgba(55,126,184,0.5)" stroke="rgba(0,0,0,0.9)" stroke-width="1.2"/>
<circle cx="352.1" cy="345.3" r="3.45" fill="rgba(55,126,184,0.5)" stroke="rgba(0,0,0,0.9)" stroke-width="1.2"/>
<circle cx="356.2" cy="348.6" r="3.45" fill="rgba(55,126,184,0.5)" stroke="rgba(0,0,0,0.9)" stroke-width="1.2"/>
<circle cx="359.1" cy="340.7" r="3.45" fill="rgba(55,126,184,0.5)" stroke="rgba(0,0,0,0.9)" stroke-width="1.2"/>
<circle cx="361.2" cy="332.5" r="3.45" fill="rgba(55,126,184,0.5)" stroke="rgba(0,0,0,0.9)" stroke-width="1.2"/>
<circle cx="359.5" cy="335.8" r="3.45" fill="rgba(55,126,184,0.5)" stroke="rgba(0,0,0,0.9)" stroke-width="1.2"/>
<circle cx="362.8" cy="350.2" r="3.45" fill="rgba(55,126,184,0.5)" stroke="rgba(0,0,0,0.9)" stroke-width="1.2"/>
<circle cx="344.7" cy="354.3" r="3.45" fill="rgba(55,126,184,0.5)" stroke="rgba(0,0,0,0.9)" stroke-width="1.2"/>
<circle cx="352.1" cy="352.7" r="3.45" fill="rgba(55,126,184,0.5)" stroke="rgba(0,0,0,0.9)" stroke-width="1.2"/>
<circle cx="319.9" cy="355.6" r="3.45" fill="rgba(55,126,184,0.5)" stroke="rgba(0,0,0,0.9)" stroke-width="1.2"/>
<circle cx="326.5" cy="356.0" r="3.45" fill="rgba(55,126,184,0.5)" stroke="rgba(0,0,0,0.9)" stroke-width="1.2"/>
<circle cx="382.9" cy="326.3" r="3.45" fill="rgba(55,126,184,0.5)" stroke="rgba(0,0,0,0.9)" stroke-width="1.2"/>
<circle cx="367.4" cy="335.1" r="3.45" fill="rgba(55,126,184,0.5)" stroke="rgba(0,0,0,0.9)" stroke-width="1.2"/>
<circle cx="372.3" cy="335.5" r="3.45" fill="rgba(55,126,184,0.5)" stroke="rgba(0,0,0,0.9)" stroke-width="1.2"/>
<circle cx="383.2" cy="340.3" r="3.45" fill="rgba(55,126,184,0.5)" stroke="rgba(0,0,0,0.9)" stroke-width="1.2"/>
<circle cx="388.0" cy="342.5" r="3.45" fill="rgba(55,126,184,0.5)" stroke="rgba(0,0,0,0.9)" stroke-width="1.2"/>
<circle cx="368.8" cy="348.2" r="3.45" fill="rgba(55,126,184,0.5)" stroke="rgba(0,0,0,0.9)" stroke-width="1.2"/>
<circle cx="371.4" cy="349.1" r="3.45" fill="rgba(55,126,184,0.5)" stroke="rgba(0,0,0,0.9)" stroke-width="1.2"/>
<circle cx="374.0" cy="346.0" r="3.45" fill="rgba(55,126,184,0.5)" stroke="rgba(0,0,0,0.9)" stroke-width="1.2"/>
<circle cx="378.4" cy="346.9" r="3.45" fill="rgba(55,126,184,0.5)" stroke="rgba(0,0,0,0.9)" stroke-width="1.2"/>
<circle cx="377.5" cy="349.5" r="3.45" fill="rgba(55,126,184,0.5)" stroke="rgba(0,0,0,0.9)" stroke-width="1.2"/>
<circle cx="385.0" cy="346.5" r="3.45" fill="rgba(55,126,184,0.5)" stroke="rgba(0,0,0,0.9)" stroke-width="1.2"/>
<circle cx="392.4" cy="352.2" r="3.45" fill="rgba(55,126,184,0.5)" stroke="rgba(0,0,0,0.9)" stroke-width="1.2"/>
<circle cx="363.5" cy="351.3" r="3.45" fill="rgba(55,126,184,0.5)" stroke="rgba(0,0,0,0.9)" stroke-width="1.2"/>
<circle cx="386.3" cy="353.9" r="3.45" fill="rgba(55,126,184,0.5)" stroke="rgba(0,0,0,0.9)" stroke-width="1.2"/>
<circle cx="320.4" cy="360.5" r="3.45" fill="rgba(55,126,184,0.5)" stroke="rgba(0,0,0,0.9)" stroke-width="1.2"/>
<circle cx="326.6" cy="362.0" r="3.45" fill="rgba(55,126,184,0.5)" stroke="rgba(0,0,0,0.9)" stroke-width="1.2"/>
<circle cx="331.8" cy="361.5" r="3.45" fill="rgba(55,126,184,0.5)" stroke="rgba(0,0,0,0.9)" stroke-width="1.2"/>
<circle cx="336.6" cy="359.6" r="3.45" fill="rgba(55,126,184,0.5)" stroke="rgba(0,0,0,0.9)" stroke-width="1.2"/>
<circle cx="341.3" cy="359.6" r="3.45" fill="rgba(55,126,184,0.5)" stroke="rgba(0,0,0,0.9)" stroke-width="1.2"/>
<circle cx="344.2" cy="355.8" r="3.45" fill="rgba(55,126,184,0.5)" stroke="rgba(0,0,0,0.9)" stroke-width="1.2"/>
<circle cx="348.0" cy="360.5" r="3.45" fill="rgba(55,126,184,0.5)" stroke="rgba(0,0,0,0.9)" stroke-width="1.2"/>
<circle cx="351.8" cy="355.8" r="3.45" fill="rgba(55,126,184,0.5)" stroke="rgba(0,0,0,0.9)" stroke-width="1.2"/>
<circle cx="354.6" cy="361.5" r="3.45" fill="rgba(55,126,184,0.5)" stroke="rgba(0,0,0,0.9)" stroke-width="1.2"/>
<circle cx="359.4" cy="355.8" r="3.45" fill="rgba(55,126,184,0.5)" stroke="rgba(0,0,0,0.9)" stroke-width="1.2"/>
<circle cx="317.1" cy="365.8" r="3.45" fill="rgba(55,126,184,0.5)" stroke="rgba(0,0,0,0.9)" stroke-width="1.2"/>
<circle cx="320.9" cy="366.2" r="3.45" fill="rgba(55,126,184,0.5)" stroke="rgba(0,0,0,0.9)" stroke-width="1.2"/>
<circle cx="323.8" cy="370.0" r="3.45" fill="rgba(55,126,184,0.5)" stroke="rgba(0,0,0,0.9)" stroke-width="1.2"/>
<circle cx="331.8" cy="365.3" r="3.45" fill="rgba(55,126,184,0.5)" stroke="rgba(0,0,0,0.9)" stroke-width="1.2"/>
<circle cx="333.3" cy="371.0" r="3.45" fill="rgba(55,126,184,0.5)" stroke="rgba(0,0,0,0.9)" stroke-width="1.2"/>
<circle cx="340.4" cy="363.9" r="3.45" fill="rgba(55,126,184,0.5)" stroke="rgba(0,0,0,0.9)" stroke-width="1.2"/>
<circle cx="340.4" cy="370.0" r="3.45" fill="rgba(55,126,184,0.5)" stroke="rgba(0,0,0,0.9)" stroke-width="1.2"/>
<circle cx="347.5" cy="367.2" r="3.45" fill="rgba(55,126,184,0.5)" stroke="rgba(0,0,0,0.9)" stroke-width="1.2"/>
<circle cx="348.5" cy="370.0" r="3.45" fill="rgba(55,126,184,0.5)" stroke="rgba(0,0,0,0.9)" stroke-width="1.2"/>
<circle cx="353.7" cy="371.9" r="3.45" fill="rgba(55,126,184,0.5)" stroke="rgba(0,0,0,0.9)" stroke-width="1.2"/>
<circle cx="360.3" cy="368.1" r="3.45" fill="rgba(55,126,184,0.5)" stroke="rgba(0,0,0,0.9)" stroke-width="1.2"/>
<circle cx="362.7" cy="373.4" r="3.45" fill="rgba(55,126,184,0.5)" stroke="rgba(0,0,0,0.9)" stroke-width="1.2"/>
<circle cx="327.1" cy="376.2" r="3.45" fill="rgba(55,126,184,0.5)" stroke="rgba(0,0,0,0.9)" stroke-width="1.2"/>
<circle cx="336.1" cy="383.8" r="3.45" fill="rgba(55,126,184,0.5)" stroke="rgba(0,0,0,0.9)" stroke-width="1.2"/>
<circle cx="347.0" cy="377.2" r="3.45" fill="rgba(55,126,184,0.5)" stroke="rgba(0,0,0,0.9)" stroke-width="1.2"/>
<circle cx="353.7" cy="378.1" r="3.45" fill="rgba(55,126,184,0.5)" stroke="rgba(0,0,0,0.9)" stroke-width="1.2"/>
<circle cx="349.4" cy="383.3" r="3.45" fill="rgba(55,126,184,0.5)" stroke="rgba(0,0,0,0.9)" stroke-width="1.2"/>
<circle cx="348.9" cy="390.5" r="3.45" fill="rgba(55,126,184,0.5)" stroke="rgba(0,0,0,0.9)" stroke-width="1.2"/>
<circle cx="364.1" cy="383.3" r="3.45" fill="rgba(55,126,184,0.5)" stroke="rgba(0,0,0,0.9)" stroke-width="1.2"/>
<circle cx="361.9" cy="355.8" r="3.45" fill="rgba(55,126,184,0.5)" stroke="rgba(0,0,0,0.9)" stroke-width="1.2"/>
<circle cx="366.7" cy="355.8" r="3.45" fill="rgba(55,126,184,0.5)" stroke="rgba(0,0,0,0.9)" stroke-width="1.2"/>
<circle cx="372.4" cy="353.9" r="3.45" fill="rgba(55,126,184,0.5)" stroke="rgba(0,0,0,0.9)" stroke-width="1.2"/>
<circle cx="377.1" cy="354.9" r="3.45" fill="rgba(55,126,184,0.5)" stroke="rgba(0,0,0,0.9)" stroke-width="1.2"/>
<circle cx="383.8" cy="357.7" r="3.45" fill="rgba(55,126,184,0.5)" stroke="rgba(0,0,0,0.9)" stroke-width="1.2"/>
<circle cx="387.6" cy="355.8" r="3.45" fill="rgba(55,126,184,0.5)" stroke="rgba(0,0,0,0.9)" stroke-width="1.2"/>
<circle cx="392.3" cy="353.9" r="3.45" fill="rgba(55,126,184,0.5)" stroke="rgba(0,0,0,0.9)" stroke-width="1.2"/>
<circle cx="361.9" cy="362.5" r="3.45" fill="rgba(55,126,184,0.5)" stroke="rgba(0,0,0,0.9)" stroke-width="1.2"/>
<circle cx="368.6" cy="362.5" r="3.45" fill="rgba(55,126,184,0.5)" stroke="rgba(0,0,0,0.9)" stroke-width="1.2"/>
<circle cx="374.3" cy="364.4" r="3.45" fill="rgba(55,126,184,0.5)" stroke="rgba(0,0,0,0.9)" stroke-width="1.2"/>
<circle cx="379.0" cy="364.4" r="3.45" fill="rgba(55,126,184,0.5)" stroke="rgba(0,0,0,0.9)" stroke-width="1.2"/>
<circle cx="361.4" cy="368.2" r="3.45" fill="rgba(55,126,184,0.5)" stroke="rgba(0,0,0,0.9)" stroke-width="1.2"/>
<circle cx="368.6" cy="370.5" r="3.45" fill="rgba(55,126,184,0.5)" stroke="rgba(0,0,0,0.9)" stroke-width="1.2"/>
<circle cx="362.9" cy="373.9" r="3.45" fill="rgba(55,126,184,0.5)" stroke="rgba(0,0,0,0.9)" stroke-width="1.2"/>
<circle cx="367.6" cy="374.8" r="3.45" fill="rgba(55,126,184,0.5)" stroke="rgba(0,0,0,0.9)" stroke-width="1.2"/>
<circle cx="371.4" cy="375.8" r="3.45" fill="rgba(55,126,184,0.5)" stroke="rgba(0,0,0,0.9)" stroke-width="1.2"/>
<circle cx="387.6" cy="371.0" r="3.45" fill="rgba(55,126,184,0.5)" stroke="rgba(0,0,0,0.9)" stroke-width="1.2"/>
<circle cx="393.3" cy="368.2" r="3.45" fill="rgba(55,126,184,0.5)" stroke="rgba(0,0,0,0.9)" stroke-width="1.2"/>
<circle cx="394.2" cy="371.5" r="3.45" fill="rgba(55,126,184,0.5)" stroke="rgba(0,0,0,0.9)" stroke-width="1.2"/>
<circle cx="401.8" cy="369.1" r="3.45" fill="rgba(55,126,184,0.5)" stroke="rgba(0,0,0,0.9)" stroke-width="1.2"/>
<circle cx="399.9" cy="376.7" r="3.45" fill="rgba(55,126,184,0.5)" stroke="rgba(0,0,0,0.9)" stroke-width="1.2"/>
<circle cx="365.7" cy="383.4" r="3.45" fill="rgba(55,126,184,0.5)" stroke="rgba(0,0,0,0.9)" stroke-width="1.2"/>
<circle cx="369.0" cy="389.1" r="3.45" fill="rgba(55,126,184,0.5)" stroke="rgba(0,0,0,0.9)" stroke-width="1.2"/>
<circle cx="374.7" cy="382.4" r="3.45" fill="rgba(55,126,184,0.5)" stroke="rgba(0,0,0,0.9)" stroke-width="1.2"/>
<circle cx="379.5" cy="380.0" r="3.45" fill="rgba(55,126,184,0.5)" stroke="rgba(0,0,0,0.9)" stroke-width="1.2"/>
<circle cx="385.7" cy="379.6" r="3.45" fill="rgba(55,126,184,0.5)" stroke="rgba(0,0,0,0.9)" stroke-width="1.2"/>
<circle cx="399.0" cy="385.7" r="3.45" fill="rgba(55,126,184,0.5)" stroke="rgba(0,0,0,0.9)" stroke-width="1.2"/>
<circle cx="385.2" cy="392.9" r="3.45" fill="rgba(55,126,184,0.5)" stroke="rgba(0,0,0,0.9)" stroke-width="1.2"/>
<path d="M317.4,343.5 L319.0,343.9 L320.7,344.2 L322.3,344.4 L323.9,344.7 L325.5,345.0 L327.2,345.3 L328.8,345.6 L330.4,345.9 L332.1,346.2 L333.7,346.6 L335.3,346.9 L336.9,347.2 L338.6,347.5 L340.2,347.8 L341.8,348.1 L343.5,348.4 L345.1,348.7 L346.7,349.0 L348.3,349.2 L350.0,349.5 L351.6,349.8 L353.2,350.1 L354.9,350.4 L356.5,350.7 L358.1,350.9 L359.7,351.2 L361.4,351.5 L363.0,351.8 L364.6,352.1 L366.2,352.3 L367.9,352.6 L369.5,352.9 L371.1,353.1 L372.8,353.4 L374.4,353.6 L376.0,353.8 L377.6,354.0 L379.3,354.2 L380.9,354.4 L382.5,354.6 L384.2,354.7 L385.8,354.7 L387.4,354.8 L389.0,354.7 L390.7,354.6 L392.3,354.5 L393.9,354.4 L395.6,354.3 L397.2,354.2 L398.8,354.1 L400.4,354.0 L402.1,353.9 L403.7,353.8 L405.3,353.7 L407.0,353.6 L408.6,353.5 L410.2,353.4 L411.8,353.5 L413.5,353.5 L415.1,353.1 L415.1,378.4 L413.5,377.6 L411.8,377.2 L410.2,376.9 L408.6,376.4 L407.0,375.9 L405.3,375.3 L403.7,374.8 L402.1,374.3 L400.4,373.8 L398.8,373.3 L397.2,372.8 L395.6,372.3 L393.9,371.8 L392.3,371.3 L390.7,370.8 L389.0,370.3 L387.4,369.8 L385.8,369.4 L384.2,368.9 L382.5,368.6 L380.9,368.2 L379.3,367.9 L377.6,367.5 L376.0,367.2 L374.4,366.9 L372.8,366.6 L371.1,366.3 L369.5,366.1 L367.9,365.9 L366.2,365.7 L364.6,365.5 L363.0,365.3 L361.4,365.2 L359.7,365.0 L358.1,364.9 L356.5,364.7 L354.9,364.6 L353.2,364.4 L351.6,364.3 L350.0,364.1 L348.3,364.0 L346.7,363.9 L345.1,363.7 L343.5,363.6 L341.8,363.5 L340.2,363.4 L338.6,363.3 L336.9,363.2 L335.3,363.1 L333.7,363.0 L332.1,362.9 L330.4,362.8 L328.8,362.7 L327.2,362.6 L325.5,362.5 L323.9,362.4 L322.3,362.3 L320.7,362.1 L319.0,362.0 L317.4,362.0Z" fill="rgba(190,190,190,0.5)" stroke="none"/>
<line x1="317.4" y1="352.5" x2="415.1" y2="365.5" stroke="#bebebe" stroke-width="2.8"/>
<rect x="308.8" y="276.2" width="111.1" height="168.4" fill="none" stroke="#333333" stroke-width="1.1"/>
<text x="312.4" y="295.3" font-size="13" fill="#000" textLength="46.0" lengthAdjust="spacingAndGlyphs">m = −0.8</text><text x="369.4" y="295.3" font-size="13.5" font-style="italic" fill="#000">P</text><text x="378.7" y="295.3" font-size="13" fill="#000">=</text><text x="389.7" y="295.3" font-size="13.5" fill="#000" textLength="27.5" lengthAdjust="spacingAndGlyphs">0.088</text>
<line x1="313.2" x2="313.2" y1="444.6" y2="448.6" stroke="#333333" stroke-width="1.3"/>
<text x="313.2" y="461.6" text-anchor="middle" font-size="14" fill="#4d4d4d">0.91</text>
<line x1="415.3" x2="415.3" y1="444.6" y2="448.6" stroke="#333333" stroke-width="1.3"/>
<text x="415.3" y="461.6" text-anchor="middle" font-size="14" fill="#4d4d4d">1.00</text>
<rect x="437.2" y="251" width="112.1" height="24.2" fill="#d9d9d9"/>
<text x="493.2" y="268.3" text-anchor="middle" font-size="14" font-weight="bold" fill="#1a1a1a">MI</text>
<circle cx="470.0" cy="338.5" r="3.45" fill="rgba(152,78,163,0.5)" stroke="rgba(0,0,0,0.9)" stroke-width="1.2"/>
<circle cx="473.5" cy="340.5" r="3.45" fill="rgba(152,78,163,0.5)" stroke="rgba(0,0,0,0.9)" stroke-width="1.2"/>
<circle cx="478.5" cy="338.0" r="3.45" fill="rgba(152,78,163,0.5)" stroke="rgba(0,0,0,0.9)" stroke-width="1.2"/>
<circle cx="466.0" cy="334.0" r="3.45" fill="rgba(152,78,163,0.5)" stroke="rgba(0,0,0,0.9)" stroke-width="1.2"/>
<circle cx="452.0" cy="366.5" r="3.45" fill="rgba(152,78,163,0.5)" stroke="rgba(0,0,0,0.9)" stroke-width="1.2"/>
<circle cx="457.0" cy="368.5" r="3.45" fill="rgba(152,78,163,0.5)" stroke="rgba(0,0,0,0.9)" stroke-width="1.2"/>
<circle cx="463.0" cy="366.0" r="3.45" fill="rgba(152,78,163,0.5)" stroke="rgba(0,0,0,0.9)" stroke-width="1.2"/>
<circle cx="470.0" cy="369.0" r="3.45" fill="rgba(152,78,163,0.5)" stroke="rgba(0,0,0,0.9)" stroke-width="1.2"/>
<circle cx="475.0" cy="366.0" r="3.45" fill="rgba(152,78,163,0.5)" stroke="rgba(0,0,0,0.9)" stroke-width="1.2"/>
<circle cx="480.5" cy="369.5" r="3.45" fill="rgba(152,78,163,0.5)" stroke="rgba(0,0,0,0.9)" stroke-width="1.2"/>
<circle cx="486.0" cy="370.0" r="3.45" fill="rgba(152,78,163,0.5)" stroke="rgba(0,0,0,0.9)" stroke-width="1.2"/>
<circle cx="492.0" cy="371.0" r="3.45" fill="rgba(152,78,163,0.5)" stroke="rgba(0,0,0,0.9)" stroke-width="1.2"/>
<circle cx="489.0" cy="346.0" r="3.45" fill="rgba(152,78,163,0.5)" stroke="rgba(0,0,0,0.9)" stroke-width="1.2"/>
<circle cx="461.0" cy="318.5" r="3.45" fill="rgba(152,78,163,0.5)" stroke="rgba(0,0,0,0.9)" stroke-width="1.2"/>
<circle cx="462.2" cy="317.7" r="3.45" fill="rgba(152,78,163,0.5)" stroke="rgba(0,0,0,0.9)" stroke-width="1.2"/>
<circle cx="462.2" cy="319.4" r="3.45" fill="rgba(152,78,163,0.5)" stroke="rgba(0,0,0,0.9)" stroke-width="1.2"/>
<circle cx="484.0" cy="323.0" r="3.45" fill="rgba(152,78,163,0.5)" stroke="rgba(0,0,0,0.9)" stroke-width="1.2"/>
<circle cx="450.7" cy="329.7" r="3.45" fill="rgba(152,78,163,0.5)" stroke="rgba(0,0,0,0.9)" stroke-width="1.2"/>
<circle cx="461.3" cy="328.8" r="3.45" fill="rgba(152,78,163,0.5)" stroke="rgba(0,0,0,0.9)" stroke-width="1.2"/>
<circle cx="468.0" cy="326.1" r="3.45" fill="rgba(152,78,163,0.5)" stroke="rgba(0,0,0,0.9)" stroke-width="1.2"/>
<circle cx="467.6" cy="330.6" r="3.45" fill="rgba(152,78,163,0.5)" stroke="rgba(0,0,0,0.9)" stroke-width="1.2"/>
<circle cx="468.4" cy="335.4" r="3.45" fill="rgba(152,78,163,0.5)" stroke="rgba(0,0,0,0.9)" stroke-width="1.2"/>
<circle cx="471.1" cy="337.7" r="3.45" fill="rgba(152,78,163,0.5)" stroke="rgba(0,0,0,0.9)" stroke-width="1.2"/>
<circle cx="479.6" cy="335.0" r="3.45" fill="rgba(152,78,163,0.5)" stroke="rgba(0,0,0,0.9)" stroke-width="1.2"/>
<circle cx="475.1" cy="339.0" r="3.45" fill="rgba(152,78,163,0.5)" stroke="rgba(0,0,0,0.9)" stroke-width="1.2"/>
<circle cx="477.3" cy="341.7" r="3.45" fill="rgba(152,78,163,0.5)" stroke="rgba(0,0,0,0.9)" stroke-width="1.2"/>
<circle cx="476.4" cy="343.9" r="3.45" fill="rgba(152,78,163,0.5)" stroke="rgba(0,0,0,0.9)" stroke-width="1.2"/>
<circle cx="493.3" cy="329.2" r="3.45" fill="rgba(152,78,163,0.5)" stroke="rgba(0,0,0,0.9)" stroke-width="1.2"/>
<circle cx="492.9" cy="341.7" r="3.45" fill="rgba(152,78,163,0.5)" stroke="rgba(0,0,0,0.9)" stroke-width="1.2"/>
<circle cx="486.2" cy="345.2" r="3.45" fill="rgba(152,78,163,0.5)" stroke="rgba(0,0,0,0.9)" stroke-width="1.2"/>
<circle cx="489.8" cy="347.4" r="3.45" fill="rgba(152,78,163,0.5)" stroke="rgba(0,0,0,0.9)" stroke-width="1.2"/>
<circle cx="445.8" cy="344.3" r="3.45" fill="rgba(152,78,163,0.5)" stroke="rgba(0,0,0,0.9)" stroke-width="1.2"/>
<circle cx="456.9" cy="346.1" r="3.45" fill="rgba(152,78,163,0.5)" stroke="rgba(0,0,0,0.9)" stroke-width="1.2"/>
<circle cx="463.1" cy="346.6" r="3.45" fill="rgba(152,78,163,0.5)" stroke="rgba(0,0,0,0.9)" stroke-width="1.2"/>
<circle cx="466.7" cy="347.4" r="3.45" fill="rgba(152,78,163,0.5)" stroke="rgba(0,0,0,0.9)" stroke-width="1.2"/>
<circle cx="472.9" cy="348.8" r="3.45" fill="rgba(152,78,163,0.5)" stroke="rgba(0,0,0,0.9)" stroke-width="1.2"/>
<circle cx="479.1" cy="347.9" r="3.45" fill="rgba(152,78,163,0.5)" stroke="rgba(0,0,0,0.9)" stroke-width="1.2"/>
<circle cx="443.6" cy="354.1" r="3.45" fill="rgba(152,78,163,0.5)" stroke="rgba(0,0,0,0.9)" stroke-width="1.2"/>
<circle cx="443.6" cy="354.1" r="3.45" fill="rgba(152,78,163,0.5)" stroke="rgba(0,0,0,0.9)" stroke-width="1.2"/>
<circle cx="453.3" cy="354.1" r="3.45" fill="rgba(152,78,163,0.5)" stroke="rgba(0,0,0,0.9)" stroke-width="1.2"/>
<circle cx="463.1" cy="354.1" r="3.45" fill="rgba(152,78,163,0.5)" stroke="rgba(0,0,0,0.9)" stroke-width="1.2"/>
<circle cx="469.3" cy="354.1" r="3.45" fill="rgba(152,78,163,0.5)" stroke="rgba(0,0,0,0.9)" stroke-width="1.2"/>
<circle cx="484.4" cy="352.3" r="3.45" fill="rgba(152,78,163,0.5)" stroke="rgba(0,0,0,0.9)" stroke-width="1.2"/>
<circle cx="489.8" cy="353.2" r="3.45" fill="rgba(152,78,163,0.5)" stroke="rgba(0,0,0,0.9)" stroke-width="1.2"/>
<circle cx="494.0" cy="328.8" r="3.45" fill="rgba(152,78,163,0.5)" stroke="rgba(0,0,0,0.9)" stroke-width="1.2"/>
<circle cx="497.1" cy="333.2" r="3.45" fill="rgba(152,78,163,0.5)" stroke="rgba(0,0,0,0.9)" stroke-width="1.2"/>
<circle cx="503.3" cy="339.0" r="3.45" fill="rgba(152,78,163,0.5)" stroke="rgba(0,0,0,0.9)" stroke-width="1.2"/>
<circle cx="498.0" cy="338.1" r="3.45" fill="rgba(152,78,163,0.5)" stroke="rgba(0,0,0,0.9)" stroke-width="1.2"/>
<circle cx="493.1" cy="341.7" r="3.45" fill="rgba(152,78,163,0.5)" stroke="rgba(0,0,0,0.9)" stroke-width="1.2"/>
<circle cx="500.7" cy="350.1" r="3.45" fill="rgba(152,78,163,0.5)" stroke="rgba(0,0,0,0.9)" stroke-width="1.2"/>
<circle cx="490.9" cy="347.4" r="3.45" fill="rgba(152,78,163,0.5)" stroke="rgba(0,0,0,0.9)" stroke-width="1.2"/>
<circle cx="518.4" cy="335.9" r="3.45" fill="rgba(152,78,163,0.5)" stroke="rgba(0,0,0,0.9)" stroke-width="1.2"/>
<circle cx="519.3" cy="345.2" r="3.45" fill="rgba(152,78,163,0.5)" stroke="rgba(0,0,0,0.9)" stroke-width="1.2"/>
<circle cx="527.8" cy="343.0" r="3.45" fill="rgba(152,78,163,0.5)" stroke="rgba(0,0,0,0.9)" stroke-width="1.2"/>
<circle cx="516.2" cy="352.8" r="3.45" fill="rgba(152,78,163,0.5)" stroke="rgba(0,0,0,0.9)" stroke-width="1.2"/>
<circle cx="510.0" cy="355.0" r="3.45" fill="rgba(152,78,163,0.5)" stroke="rgba(0,0,0,0.9)" stroke-width="1.2"/>
<circle cx="526.9" cy="354.6" r="3.45" fill="rgba(152,78,163,0.5)" stroke="rgba(0,0,0,0.9)" stroke-width="1.2"/>
<circle cx="493.6" cy="353.2" r="3.45" fill="rgba(152,78,163,0.5)" stroke="rgba(0,0,0,0.9)" stroke-width="1.2"/>
<circle cx="445.7" cy="355.8" r="3.45" fill="rgba(152,78,163,0.5)" stroke="rgba(0,0,0,0.9)" stroke-width="1.2"/>
<circle cx="454.2" cy="358.2" r="3.45" fill="rgba(152,78,163,0.5)" stroke="rgba(0,0,0,0.9)" stroke-width="1.2"/>
<circle cx="461.8" cy="356.3" r="3.45" fill="rgba(152,78,163,0.5)" stroke="rgba(0,0,0,0.9)" stroke-width="1.2"/>
<circle cx="469.4" cy="359.1" r="3.45" fill="rgba(152,78,163,0.5)" stroke="rgba(0,0,0,0.9)" stroke-width="1.2"/>
<circle cx="476.1" cy="357.7" r="3.45" fill="rgba(152,78,163,0.5)" stroke="rgba(0,0,0,0.9)" stroke-width="1.2"/>
<circle cx="481.8" cy="359.6" r="3.45" fill="rgba(152,78,163,0.5)" stroke="rgba(0,0,0,0.9)" stroke-width="1.2"/>
<circle cx="488.4" cy="359.6" r="3.45" fill="rgba(152,78,163,0.5)" stroke="rgba(0,0,0,0.9)" stroke-width="1.2"/>
<circle cx="449.5" cy="361.5" r="3.45" fill="rgba(152,78,163,0.5)" stroke="rgba(0,0,0,0.9)" stroke-width="1.2"/>
<circle cx="447.6" cy="365.8" r="3.45" fill="rgba(152,78,163,0.5)" stroke="rgba(0,0,0,0.9)" stroke-width="1.2"/>
<circle cx="453.8" cy="367.7" r="3.45" fill="rgba(152,78,163,0.5)" stroke="rgba(0,0,0,0.9)" stroke-width="1.2"/>
<circle cx="458.0" cy="367.2" r="3.45" fill="rgba(152,78,163,0.5)" stroke="rgba(0,0,0,0.9)" stroke-width="1.2"/>
<circle cx="461.8" cy="367.2" r="3.45" fill="rgba(152,78,163,0.5)" stroke="rgba(0,0,0,0.9)" stroke-width="1.2"/>
<circle cx="465.2" cy="368.1" r="3.45" fill="rgba(152,78,163,0.5)" stroke="rgba(0,0,0,0.9)" stroke-width="1.2"/>
<circle cx="467.5" cy="372.0" r="3.45" fill="rgba(152,78,163,0.5)" stroke="rgba(0,0,0,0.9)" stroke-width="1.2"/>
<circle cx="468.5" cy="363.4" r="3.45" fill="rgba(152,78,163,0.5)" stroke="rgba(0,0,0,0.9)" stroke-width="1.2"/>
<circle cx="471.3" cy="367.2" r="3.45" fill="rgba(152,78,163,0.5)" stroke="rgba(0,0,0,0.9)" stroke-width="1.2"/>
<circle cx="477.0" cy="367.2" r="3.45" fill="rgba(152,78,163,0.5)" stroke="rgba(0,0,0,0.9)" stroke-width="1.2"/>
<circle cx="483.7" cy="368.1" r="3.45" fill="rgba(152,78,163,0.5)" stroke="rgba(0,0,0,0.9)" stroke-width="1.2"/>
<circle cx="489.4" cy="371.0" r="3.45" fill="rgba(152,78,163,0.5)" stroke="rgba(0,0,0,0.9)" stroke-width="1.2"/>
<circle cx="488.4" cy="373.4" r="3.45" fill="rgba(152,78,163,0.5)" stroke="rgba(0,0,0,0.9)" stroke-width="1.2"/>
<circle cx="463.3" cy="363.9" r="3.45" fill="rgba(152,78,163,0.5)" stroke="rgba(0,0,0,0.9)" stroke-width="1.2"/>
<circle cx="469.0" cy="375.3" r="3.45" fill="rgba(152,78,163,0.5)" stroke="rgba(0,0,0,0.9)" stroke-width="1.2"/>
<circle cx="475.1" cy="374.3" r="3.45" fill="rgba(152,78,163,0.5)" stroke="rgba(0,0,0,0.9)" stroke-width="1.2"/>
<circle cx="478.5" cy="379.1" r="3.45" fill="rgba(152,78,163,0.5)" stroke="rgba(0,0,0,0.9)" stroke-width="1.2"/>
<circle cx="460.9" cy="382.4" r="3.45" fill="rgba(152,78,163,0.5)" stroke="rgba(0,0,0,0.9)" stroke-width="1.2"/>
<circle cx="469.0" cy="389.0" r="3.45" fill="rgba(152,78,163,0.5)" stroke="rgba(0,0,0,0.9)" stroke-width="1.2"/>
<circle cx="493.2" cy="369.1" r="3.45" fill="rgba(152,78,163,0.5)" stroke="rgba(0,0,0,0.9)" stroke-width="1.2"/>
<circle cx="509.0" cy="355.8" r="3.45" fill="rgba(152,78,163,0.5)" stroke="rgba(0,0,0,0.9)" stroke-width="1.2"/>
<circle cx="516.6" cy="353.9" r="3.45" fill="rgba(152,78,163,0.5)" stroke="rgba(0,0,0,0.9)" stroke-width="1.2"/>
<circle cx="520.4" cy="357.7" r="3.45" fill="rgba(152,78,163,0.5)" stroke="rgba(0,0,0,0.9)" stroke-width="1.2"/>
<circle cx="527.1" cy="355.8" r="3.45" fill="rgba(152,78,163,0.5)" stroke="rgba(0,0,0,0.9)" stroke-width="1.2"/>
<circle cx="510.0" cy="360.6" r="3.45" fill="rgba(152,78,163,0.5)" stroke="rgba(0,0,0,0.9)" stroke-width="1.2"/>
<circle cx="516.6" cy="361.5" r="3.45" fill="rgba(152,78,163,0.5)" stroke="rgba(0,0,0,0.9)" stroke-width="1.2"/>
<circle cx="501.9" cy="363.9" r="3.45" fill="rgba(152,78,163,0.5)" stroke="rgba(0,0,0,0.9)" stroke-width="1.2"/>
<circle cx="491.9" cy="362.5" r="3.45" fill="rgba(152,78,163,0.5)" stroke="rgba(0,0,0,0.9)" stroke-width="1.2"/>
<circle cx="495.7" cy="367.2" r="3.45" fill="rgba(152,78,163,0.5)" stroke="rgba(0,0,0,0.9)" stroke-width="1.2"/>
<circle cx="491.4" cy="371.5" r="3.45" fill="rgba(152,78,163,0.5)" stroke="rgba(0,0,0,0.9)" stroke-width="1.2"/>
<circle cx="494.8" cy="372.4" r="3.45" fill="rgba(152,78,163,0.5)" stroke="rgba(0,0,0,0.9)" stroke-width="1.2"/>
<circle cx="516.6" cy="369.1" r="3.45" fill="rgba(152,78,163,0.5)" stroke="rgba(0,0,0,0.9)" stroke-width="1.2"/>
<circle cx="520.9" cy="368.6" r="3.45" fill="rgba(152,78,163,0.5)" stroke="rgba(0,0,0,0.9)" stroke-width="1.2"/>
<circle cx="509.0" cy="373.4" r="3.45" fill="rgba(152,78,163,0.5)" stroke="rgba(0,0,0,0.9)" stroke-width="1.2"/>
<circle cx="508.1" cy="376.2" r="3.45" fill="rgba(152,78,163,0.5)" stroke="rgba(0,0,0,0.9)" stroke-width="1.2"/>
<circle cx="502.8" cy="376.7" r="3.45" fill="rgba(152,78,163,0.5)" stroke="rgba(0,0,0,0.9)" stroke-width="1.2"/>
<circle cx="515.2" cy="379.6" r="3.45" fill="rgba(152,78,163,0.5)" stroke="rgba(0,0,0,0.9)" stroke-width="1.2"/>
<circle cx="514.2" cy="384.8" r="3.45" fill="rgba(152,78,163,0.5)" stroke="rgba(0,0,0,0.9)" stroke-width="1.2"/>
<circle cx="510.0" cy="388.6" r="3.45" fill="rgba(152,78,163,0.5)" stroke="rgba(0,0,0,0.9)" stroke-width="1.2"/>
<circle cx="527.5" cy="375.8" r="3.45" fill="rgba(152,78,163,0.5)" stroke="rgba(0,0,0,0.9)" stroke-width="1.2"/>
<circle cx="524.7" cy="384.3" r="3.45" fill="rgba(152,78,163,0.5)" stroke="rgba(0,0,0,0.9)" stroke-width="1.2"/>
<path d="M445.4,341.5 L447.0,341.9 L448.7,342.2 L450.3,342.5 L452.0,342.8 L453.6,343.1 L455.2,343.5 L456.9,343.8 L458.5,344.1 L460.2,344.4 L461.8,344.8 L463.5,345.1 L465.1,345.4 L466.7,345.8 L468.4,346.1 L470.0,346.4 L471.7,346.7 L473.3,347.1 L474.9,347.4 L476.6,347.7 L478.2,348.0 L479.9,348.3 L481.5,348.6 L483.2,348.9 L484.8,349.2 L486.4,349.5 L488.1,349.8 L489.7,350.1 L491.4,350.4 L493.0,350.7 L494.6,351.0 L496.3,351.3 L497.9,351.6 L499.6,351.9 L501.2,352.2 L502.9,352.4 L504.5,352.6 L506.1,352.7 L507.8,352.8 L509.4,352.9 L511.1,352.9 L512.7,352.9 L514.4,352.9 L516.0,352.9 L517.6,352.9 L519.3,352.9 L520.9,352.9 L522.6,352.9 L524.2,352.9 L525.8,352.9 L527.5,352.8 L529.1,352.8 L530.8,352.8 L532.4,352.8 L534.0,352.8 L535.7,352.8 L537.3,352.8 L539.0,352.8 L540.6,352.9 L542.3,353.0 L543.9,352.8 L543.9,379.6 L542.3,378.7 L540.6,378.3 L539.0,377.9 L537.3,377.4 L535.7,376.8 L534.0,376.3 L532.4,375.7 L530.8,375.1 L529.1,374.6 L527.5,374.0 L525.8,373.5 L524.2,372.9 L522.6,372.4 L520.9,371.8 L519.3,371.2 L517.6,370.7 L516.0,370.1 L514.4,369.6 L512.7,369.0 L511.1,368.5 L509.4,367.9 L507.8,367.4 L506.1,367.0 L504.5,366.6 L502.9,366.2 L501.2,365.9 L499.6,365.6 L497.9,365.4 L496.3,365.1 L494.6,364.9 L493.0,364.6 L491.4,364.4 L489.7,364.2 L488.1,363.9 L486.4,363.7 L484.8,363.4 L483.2,363.2 L481.5,363.0 L479.9,362.7 L478.2,362.5 L476.6,362.3 L474.9,362.2 L473.3,362.0 L471.7,361.9 L470.0,361.7 L468.4,361.6 L466.7,361.5 L465.1,361.4 L463.5,361.2 L461.8,361.1 L460.2,361.0 L458.5,360.8 L456.9,360.7 L455.2,360.6 L453.6,360.4 L452.0,360.3 L450.3,360.2 L448.7,360.0 L447.0,359.8 L445.4,359.8Z" fill="rgba(190,190,190,0.5)" stroke="none"/>
<line x1="445.4" y1="351.8" x2="543.9" y2="365.2" stroke="#bebebe" stroke-width="2.8"/>
<rect x="437.7" y="276.2" width="111.1" height="168.4" fill="none" stroke="#333333" stroke-width="1.1"/>
<text x="441.3" y="295.3" font-size="13" fill="#000" textLength="52.1" lengthAdjust="spacingAndGlyphs">m = −0.76</text><text x="504.3" y="295.3" font-size="13.5" font-style="italic" fill="#000">P</text><text x="513.6" y="295.3" font-size="13" fill="#000">=</text><text x="524.6" y="295.3" font-size="13.5" fill="#000" textLength="21.8" lengthAdjust="spacingAndGlyphs">0.07</text>
<line x1="442.1" x2="442.1" y1="444.6" y2="448.6" stroke="#333333" stroke-width="1.3"/>
<text x="442.1" y="461.6" text-anchor="middle" font-size="14" fill="#4d4d4d">0.91</text>
<line x1="544.2" x2="544.2" y1="444.6" y2="448.6" stroke="#333333" stroke-width="1.3"/>
<text x="544.2" y="461.6" text-anchor="middle" font-size="14" fill="#4d4d4d">1.00</text>
<rect x="566.1" y="251" width="112.1" height="24.2" fill="#d9d9d9"/>
<text x="622.1" y="268.3" text-anchor="middle" font-size="14" font-weight="bold" fill="#1a1a1a">MII</text>
<circle cx="576.0" cy="360.5" r="3.45" fill="rgba(255,127,0,0.5)" stroke="rgba(0,0,0,0.9)" stroke-width="1.2"/>
<circle cx="583.0" cy="361.5" r="3.45" fill="rgba(255,127,0,0.5)" stroke="rgba(0,0,0,0.9)" stroke-width="1.2"/>
<circle cx="588.0" cy="331.0" r="3.45" fill="rgba(255,127,0,0.5)" stroke="rgba(0,0,0,0.9)" stroke-width="1.2"/>
<circle cx="627.5" cy="342.0" r="3.45" fill="rgba(255,127,0,0.5)" stroke="rgba(0,0,0,0.9)" stroke-width="1.2"/>
<circle cx="633.0" cy="341.0" r="3.45" fill="rgba(255,127,0,0.5)" stroke="rgba(0,0,0,0.9)" stroke-width="1.2"/>
<circle cx="638.0" cy="339.5" r="3.45" fill="rgba(255,127,0,0.5)" stroke="rgba(0,0,0,0.9)" stroke-width="1.2"/>
<circle cx="630.0" cy="366.0" r="3.45" fill="rgba(255,127,0,0.5)" stroke="rgba(0,0,0,0.9)" stroke-width="1.2"/>
<circle cx="636.0" cy="373.5" r="3.45" fill="rgba(255,127,0,0.5)" stroke="rgba(0,0,0,0.9)" stroke-width="1.2"/>
<circle cx="641.0" cy="368.0" r="3.45" fill="rgba(255,127,0,0.5)" stroke="rgba(0,0,0,0.9)" stroke-width="1.2"/>
<circle cx="647.0" cy="341.5" r="3.45" fill="rgba(255,127,0,0.5)" stroke="rgba(0,0,0,0.9)" stroke-width="1.2"/>
<circle cx="611.5" cy="340.5" r="3.45" fill="rgba(255,127,0,0.5)" stroke="rgba(0,0,0,0.9)" stroke-width="1.2"/>
<circle cx="614.5" cy="336.0" r="3.45" fill="rgba(255,127,0,0.5)" stroke="rgba(0,0,0,0.9)" stroke-width="1.2"/>
<circle cx="590.5" cy="359.5" r="3.45" fill="rgba(255,127,0,0.5)" stroke="rgba(0,0,0,0.9)" stroke-width="1.2"/>
<circle cx="620.5" cy="375.0" r="3.45" fill="rgba(255,127,0,0.5)" stroke="rgba(0,0,0,0.9)" stroke-width="1.2"/>
<circle cx="580.6" cy="312.3" r="3.45" fill="rgba(255,127,0,0.5)" stroke="rgba(0,0,0,0.9)" stroke-width="1.2"/>
<circle cx="586.0" cy="309.4" r="3.45" fill="rgba(255,127,0,0.5)" stroke="rgba(0,0,0,0.9)" stroke-width="1.2"/>
<circle cx="591.8" cy="315.2" r="3.45" fill="rgba(255,127,0,0.5)" stroke="rgba(0,0,0,0.9)" stroke-width="1.2"/>
<circle cx="588.9" cy="319.1" r="3.45" fill="rgba(255,127,0,0.5)" stroke="rgba(0,0,0,0.9)" stroke-width="1.2"/>
<circle cx="583.5" cy="322.0" r="3.45" fill="rgba(255,127,0,0.5)" stroke="rgba(0,0,0,0.9)" stroke-width="1.2"/>
<circle cx="586.0" cy="324.4" r="3.45" fill="rgba(255,127,0,0.5)" stroke="rgba(0,0,0,0.9)" stroke-width="1.2"/>
<circle cx="594.2" cy="325.4" r="3.45" fill="rgba(255,127,0,0.5)" stroke="rgba(0,0,0,0.9)" stroke-width="1.2"/>
<circle cx="574.3" cy="324.9" r="3.45" fill="rgba(255,127,0,0.5)" stroke="rgba(0,0,0,0.9)" stroke-width="1.2"/>
<circle cx="574.8" cy="329.3" r="3.45" fill="rgba(255,127,0,0.5)" stroke="rgba(0,0,0,0.9)" stroke-width="1.2"/>
<circle cx="588.9" cy="330.3" r="3.45" fill="rgba(255,127,0,0.5)" stroke="rgba(0,0,0,0.9)" stroke-width="1.2"/>
<circle cx="588.9" cy="330.3" r="3.45" fill="rgba(255,127,0,0.5)" stroke="rgba(0,0,0,0.9)" stroke-width="1.2"/>
<circle cx="580.1" cy="333.2" r="3.45" fill="rgba(255,127,0,0.5)" stroke="rgba(0,0,0,0.9)" stroke-width="1.2"/>
<circle cx="585.5" cy="334.2" r="3.45" fill="rgba(255,127,0,0.5)" stroke="rgba(0,0,0,0.9)" stroke-width="1.2"/>
<circle cx="581.6" cy="338.0" r="3.45" fill="rgba(255,127,0,0.5)" stroke="rgba(0,0,0,0.9)" stroke-width="1.2"/>
<circle cx="579.7" cy="341.0" r="3.45" fill="rgba(255,127,0,0.5)" stroke="rgba(0,0,0,0.9)" stroke-width="1.2"/>
<circle cx="609.3" cy="326.4" r="3.45" fill="rgba(255,127,0,0.5)" stroke="rgba(0,0,0,0.9)" stroke-width="1.2"/>
<circle cx="616.6" cy="327.8" r="3.45" fill="rgba(255,127,0,0.5)" stroke="rgba(0,0,0,0.9)" stroke-width="1.2"/>
<circle cx="621.0" cy="322.5" r="3.45" fill="rgba(255,127,0,0.5)" stroke="rgba(0,0,0,0.9)" stroke-width="1.2"/>
<circle cx="621.9" cy="329.3" r="3.45" fill="rgba(255,127,0,0.5)" stroke="rgba(0,0,0,0.9)" stroke-width="1.2"/>
<circle cx="616.1" cy="331.7" r="3.45" fill="rgba(255,127,0,0.5)" stroke="rgba(0,0,0,0.9)" stroke-width="1.2"/>
<circle cx="610.3" cy="334.2" r="3.45" fill="rgba(255,127,0,0.5)" stroke="rgba(0,0,0,0.9)" stroke-width="1.2"/>
<circle cx="602.0" cy="336.6" r="3.45" fill="rgba(255,127,0,0.5)" stroke="rgba(0,0,0,0.9)" stroke-width="1.2"/>
<circle cx="612.7" cy="340.0" r="3.45" fill="rgba(255,127,0,0.5)" stroke="rgba(0,0,0,0.9)" stroke-width="1.2"/>
<circle cx="616.6" cy="343.4" r="3.45" fill="rgba(255,127,0,0.5)" stroke="rgba(0,0,0,0.9)" stroke-width="1.2"/>
<circle cx="608.8" cy="341.9" r="3.45" fill="rgba(255,127,0,0.5)" stroke="rgba(0,0,0,0.9)" stroke-width="1.2"/>
<circle cx="592.3" cy="341.9" r="3.45" fill="rgba(255,127,0,0.5)" stroke="rgba(0,0,0,0.9)" stroke-width="1.2"/>
<circle cx="594.7" cy="344.8" r="3.45" fill="rgba(255,127,0,0.5)" stroke="rgba(0,0,0,0.9)" stroke-width="1.2"/>
<circle cx="601.0" cy="344.8" r="3.45" fill="rgba(255,127,0,0.5)" stroke="rgba(0,0,0,0.9)" stroke-width="1.2"/>
<circle cx="606.9" cy="346.8" r="3.45" fill="rgba(255,127,0,0.5)" stroke="rgba(0,0,0,0.9)" stroke-width="1.2"/>
<circle cx="612.7" cy="346.8" r="3.45" fill="rgba(255,127,0,0.5)" stroke="rgba(0,0,0,0.9)" stroke-width="1.2"/>
<circle cx="581.6" cy="349.7" r="3.45" fill="rgba(255,127,0,0.5)" stroke="rgba(0,0,0,0.9)" stroke-width="1.2"/>
<circle cx="623.9" cy="329.3" r="3.45" fill="rgba(255,127,0,0.5)" stroke="rgba(0,0,0,0.9)" stroke-width="1.2"/>
<circle cx="637.0" cy="332.7" r="3.45" fill="rgba(255,127,0,0.5)" stroke="rgba(0,0,0,0.9)" stroke-width="1.2"/>
<circle cx="632.6" cy="338.5" r="3.45" fill="rgba(255,127,0,0.5)" stroke="rgba(0,0,0,0.9)" stroke-width="1.2"/>
<circle cx="636.0" cy="341.0" r="3.45" fill="rgba(255,127,0,0.5)" stroke="rgba(0,0,0,0.9)" stroke-width="1.2"/>
<circle cx="628.7" cy="343.4" r="3.45" fill="rgba(255,127,0,0.5)" stroke="rgba(0,0,0,0.9)" stroke-width="1.2"/>
<circle cx="632.1" cy="343.4" r="3.45" fill="rgba(255,127,0,0.5)" stroke="rgba(0,0,0,0.9)" stroke-width="1.2"/>
<circle cx="634.6" cy="342.4" r="3.45" fill="rgba(255,127,0,0.5)" stroke="rgba(0,0,0,0.9)" stroke-width="1.2"/>
<circle cx="647.2" cy="340.5" r="3.45" fill="rgba(255,127,0,0.5)" stroke="rgba(0,0,0,0.9)" stroke-width="1.2"/>
<circle cx="646.7" cy="341.4" r="3.45" fill="rgba(255,127,0,0.5)" stroke="rgba(0,0,0,0.9)" stroke-width="1.2"/>
<circle cx="624.9" cy="349.2" r="3.45" fill="rgba(255,127,0,0.5)" stroke="rgba(0,0,0,0.9)" stroke-width="1.2"/>
<circle cx="632.1" cy="349.2" r="3.45" fill="rgba(255,127,0,0.5)" stroke="rgba(0,0,0,0.9)" stroke-width="1.2"/>
<circle cx="656.0" cy="349.2" r="3.45" fill="rgba(255,127,0,0.5)" stroke="rgba(0,0,0,0.9)" stroke-width="1.2"/>
<circle cx="653.0" cy="350.7" r="3.45" fill="rgba(255,127,0,0.5)" stroke="rgba(0,0,0,0.9)" stroke-width="1.2"/>
<circle cx="582.1" cy="351.9" r="3.45" fill="rgba(255,127,0,0.5)" stroke="rgba(0,0,0,0.9)" stroke-width="1.2"/>
<circle cx="587.4" cy="355.3" r="3.45" fill="rgba(255,127,0,0.5)" stroke="rgba(0,0,0,0.9)" stroke-width="1.2"/>
<circle cx="596.2" cy="351.9" r="3.45" fill="rgba(255,127,0,0.5)" stroke="rgba(0,0,0,0.9)" stroke-width="1.2"/>
<circle cx="602.0" cy="353.8" r="3.45" fill="rgba(255,127,0,0.5)" stroke="rgba(0,0,0,0.9)" stroke-width="1.2"/>
<circle cx="608.8" cy="356.7" r="3.45" fill="rgba(255,127,0,0.5)" stroke="rgba(0,0,0,0.9)" stroke-width="1.2"/>
<circle cx="616.6" cy="358.7" r="3.45" fill="rgba(255,127,0,0.5)" stroke="rgba(0,0,0,0.9)" stroke-width="1.2"/>
<circle cx="621.4" cy="360.6" r="3.45" fill="rgba(255,127,0,0.5)" stroke="rgba(0,0,0,0.9)" stroke-width="1.2"/>
<circle cx="595.7" cy="357.7" r="3.45" fill="rgba(255,127,0,0.5)" stroke="rgba(0,0,0,0.9)" stroke-width="1.2"/>
<circle cx="574.8" cy="359.2" r="3.45" fill="rgba(255,127,0,0.5)" stroke="rgba(0,0,0,0.9)" stroke-width="1.2"/>
<circle cx="574.8" cy="359.2" r="3.45" fill="rgba(255,127,0,0.5)" stroke="rgba(0,0,0,0.9)" stroke-width="1.2"/>
<circle cx="582.6" cy="360.6" r="3.45" fill="rgba(255,127,0,0.5)" stroke="rgba(0,0,0,0.9)" stroke-width="1.2"/>
<circle cx="582.6" cy="360.6" r="3.45" fill="rgba(255,127,0,0.5)" stroke="rgba(0,0,0,0.9)" stroke-width="1.2"/>
<circle cx="589.9" cy="358.7" r="3.45" fill="rgba(255,127,0,0.5)" stroke="rgba(0,0,0,0.9)" stroke-width="1.2"/>
<circle cx="589.4" cy="361.1" r="3.45" fill="rgba(255,127,0,0.5)" stroke="rgba(0,0,0,0.9)" stroke-width="1.2"/>
<circle cx="580.1" cy="367.9" r="3.45" fill="rgba(255,127,0,0.5)" stroke="rgba(0,0,0,0.9)" stroke-width="1.2"/>
<circle cx="583.5" cy="370.8" r="3.45" fill="rgba(255,127,0,0.5)" stroke="rgba(0,0,0,0.9)" stroke-width="1.2"/>
<circle cx="595.2" cy="365.5" r="3.45" fill="rgba(255,127,0,0.5)" stroke="rgba(0,0,0,0.9)" stroke-width="1.2"/>
<circle cx="599.1" cy="369.9" r="3.45" fill="rgba(255,127,0,0.5)" stroke="rgba(0,0,0,0.9)" stroke-width="1.2"/>
<circle cx="593.8" cy="372.3" r="3.45" fill="rgba(255,127,0,0.5)" stroke="rgba(0,0,0,0.9)" stroke-width="1.2"/>
<circle cx="590.8" cy="375.7" r="3.45" fill="rgba(255,127,0,0.5)" stroke="rgba(0,0,0,0.9)" stroke-width="1.2"/>
<circle cx="604.0" cy="365.0" r="3.45" fill="rgba(255,127,0,0.5)" stroke="rgba(0,0,0,0.9)" stroke-width="1.2"/>
<circle cx="605.9" cy="363.1" r="3.45" fill="rgba(255,127,0,0.5)" stroke="rgba(0,0,0,0.9)" stroke-width="1.2"/>
<circle cx="612.2" cy="373.8" r="3.45" fill="rgba(255,127,0,0.5)" stroke="rgba(0,0,0,0.9)" stroke-width="1.2"/>
<circle cx="610.8" cy="381.0" r="3.45" fill="rgba(255,127,0,0.5)" stroke="rgba(0,0,0,0.9)" stroke-width="1.2"/>
<circle cx="621.0" cy="372.3" r="3.45" fill="rgba(255,127,0,0.5)" stroke="rgba(0,0,0,0.9)" stroke-width="1.2"/>
<circle cx="621.0" cy="377.2" r="3.45" fill="rgba(255,127,0,0.5)" stroke="rgba(0,0,0,0.9)" stroke-width="1.2"/>
<circle cx="621.0" cy="374.5" r="3.45" fill="rgba(255,127,0,0.5)" stroke="rgba(0,0,0,0.9)" stroke-width="1.2"/>
<circle cx="575.8" cy="387.8" r="3.45" fill="rgba(255,127,0,0.5)" stroke="rgba(0,0,0,0.9)" stroke-width="1.2"/>
<circle cx="653.5" cy="353.8" r="3.45" fill="rgba(255,127,0,0.5)" stroke="rgba(0,0,0,0.9)" stroke-width="1.2"/>
<circle cx="655.5" cy="356.7" r="3.45" fill="rgba(255,127,0,0.5)" stroke="rgba(0,0,0,0.9)" stroke-width="1.2"/>
<circle cx="644.8" cy="355.3" r="3.45" fill="rgba(255,127,0,0.5)" stroke="rgba(0,0,0,0.9)" stroke-width="1.2"/>
<circle cx="643.3" cy="357.7" r="3.45" fill="rgba(255,127,0,0.5)" stroke="rgba(0,0,0,0.9)" stroke-width="1.2"/>
<circle cx="622.9" cy="359.7" r="3.45" fill="rgba(255,127,0,0.5)" stroke="rgba(0,0,0,0.9)" stroke-width="1.2"/>
<circle cx="631.7" cy="358.7" r="3.45" fill="rgba(255,127,0,0.5)" stroke="rgba(0,0,0,0.9)" stroke-width="1.2"/>
<circle cx="637.5" cy="358.7" r="3.45" fill="rgba(255,127,0,0.5)" stroke="rgba(0,0,0,0.9)" stroke-width="1.2"/>
<circle cx="649.2" cy="362.6" r="3.45" fill="rgba(255,127,0,0.5)" stroke="rgba(0,0,0,0.9)" stroke-width="1.2"/>
<circle cx="642.4" cy="362.6" r="3.45" fill="rgba(255,127,0,0.5)" stroke="rgba(0,0,0,0.9)" stroke-width="1.2"/>
<circle cx="623.9" cy="365.5" r="3.45" fill="rgba(255,127,0,0.5)" stroke="rgba(0,0,0,0.9)" stroke-width="1.2"/>
<circle cx="629.7" cy="366.5" r="3.45" fill="rgba(255,127,0,0.5)" stroke="rgba(0,0,0,0.9)" stroke-width="1.2"/>
<circle cx="632.6" cy="364.5" r="3.45" fill="rgba(255,127,0,0.5)" stroke="rgba(0,0,0,0.9)" stroke-width="1.2"/>
<circle cx="640.4" cy="367.0" r="3.45" fill="rgba(255,127,0,0.5)" stroke="rgba(0,0,0,0.9)" stroke-width="1.2"/>
<circle cx="622.9" cy="373.8" r="3.45" fill="rgba(255,127,0,0.5)" stroke="rgba(0,0,0,0.9)" stroke-width="1.2"/>
<circle cx="624.9" cy="371.8" r="3.45" fill="rgba(255,127,0,0.5)" stroke="rgba(0,0,0,0.9)" stroke-width="1.2"/>
<circle cx="623.9" cy="378.1" r="3.45" fill="rgba(255,127,0,0.5)" stroke="rgba(0,0,0,0.9)" stroke-width="1.2"/>
<circle cx="637.5" cy="372.3" r="3.45" fill="rgba(255,127,0,0.5)" stroke="rgba(0,0,0,0.9)" stroke-width="1.2"/>
<circle cx="636.5" cy="375.7" r="3.45" fill="rgba(255,127,0,0.5)" stroke="rgba(0,0,0,0.9)" stroke-width="1.2"/>
<circle cx="642.8" cy="378.6" r="3.45" fill="rgba(255,127,0,0.5)" stroke="rgba(0,0,0,0.9)" stroke-width="1.2"/>
<circle cx="646.7" cy="380.1" r="3.45" fill="rgba(255,127,0,0.5)" stroke="rgba(0,0,0,0.9)" stroke-width="1.2"/>
<circle cx="650.6" cy="374.2" r="3.45" fill="rgba(255,127,0,0.5)" stroke="rgba(0,0,0,0.9)" stroke-width="1.2"/>
<circle cx="632.1" cy="381.0" r="3.45" fill="rgba(255,127,0,0.5)" stroke="rgba(0,0,0,0.9)" stroke-width="1.2"/>
<circle cx="624.4" cy="386.9" r="3.45" fill="rgba(255,127,0,0.5)" stroke="rgba(0,0,0,0.9)" stroke-width="1.2"/>
<circle cx="659.4" cy="379.6" r="3.45" fill="rgba(255,127,0,0.5)" stroke="rgba(0,0,0,0.9)" stroke-width="1.2"/>
<circle cx="663.7" cy="379.1" r="3.45" fill="rgba(255,127,0,0.5)" stroke="rgba(0,0,0,0.9)" stroke-width="1.2"/>
<path d="M575.2,334.8 L576.8,335.4 L578.5,335.8 L580.1,336.2 L581.7,336.6 L583.3,337.1 L585.0,337.5 L586.6,338.0 L588.2,338.4 L589.9,338.9 L591.5,339.3 L593.1,339.8 L594.7,340.3 L596.4,340.7 L598.0,341.2 L599.6,341.6 L601.3,342.1 L602.9,342.5 L604.5,343.0 L606.1,343.4 L607.8,343.8 L609.4,344.2 L611.0,344.6 L612.7,344.9 L614.3,345.2 L615.9,345.5 L617.5,345.7 L619.2,346.0 L620.8,346.2 L622.4,346.5 L624.1,346.8 L625.7,347.0 L627.3,347.3 L628.9,347.5 L630.6,347.8 L632.2,348.1 L633.8,348.3 L635.4,348.6 L637.1,348.8 L638.7,349.0 L640.3,349.2 L642.0,349.4 L643.6,349.5 L645.2,349.6 L646.8,349.8 L648.5,349.9 L650.1,350.0 L651.7,350.1 L653.4,350.2 L655.0,350.3 L656.6,350.4 L658.2,350.5 L659.9,350.6 L661.5,350.7 L663.1,350.8 L664.8,351.0 L666.4,351.1 L668.0,351.2 L669.6,351.4 L671.3,351.6 L672.9,351.5 L672.9,379.4 L671.3,378.7 L669.6,378.2 L668.0,377.8 L666.4,377.2 L664.8,376.7 L663.1,376.2 L661.5,375.6 L659.9,375.1 L658.2,374.5 L656.6,374.0 L655.0,373.5 L653.4,372.9 L651.7,372.4 L650.1,371.8 L648.5,371.3 L646.8,370.8 L645.2,370.2 L643.6,369.7 L642.0,369.2 L640.3,368.7 L638.7,368.2 L637.1,367.7 L635.4,367.2 L633.8,366.7 L632.2,366.3 L630.6,365.8 L628.9,365.3 L627.3,364.9 L625.7,364.4 L624.1,363.9 L622.4,363.5 L620.8,363.0 L619.2,362.5 L617.5,362.1 L615.9,361.6 L614.3,361.2 L612.7,360.7 L611.0,360.4 L609.4,360.0 L607.8,359.7 L606.1,359.4 L604.5,359.1 L602.9,358.9 L601.3,358.7 L599.6,358.5 L598.0,358.2 L596.4,358.0 L594.7,357.8 L593.1,357.5 L591.5,357.3 L589.9,357.1 L588.2,356.8 L586.6,356.6 L585.0,356.4 L583.3,356.2 L581.7,355.9 L580.1,355.7 L578.5,355.4 L576.8,355.1 L575.2,355.0Z" fill="rgba(190,190,190,0.5)" stroke="none"/>
<line x1="575.2" y1="344.6" x2="672.9" y2="366" stroke="#bebebe" stroke-width="2.8"/>
<rect x="566.6" y="276.2" width="111.1" height="168.4" fill="none" stroke="#333333" stroke-width="1.1"/>
<text y="295.3" font-size="13" fill="#000"><tspan x="589.7">m</tspan><tspan x="600.6">=</tspan><tspan x="601.0">−</tspan><tspan x="605.4">1.4</tspan></text><text x="633" y="295.3" font-size="13.5" font-style="italic" fill="#000">P</text><text x="642.3" y="295.3" font-size="13" fill="#000">=</text><text x="653.3" y="295.3" font-size="13.5" fill="#000" textLength="21.4" lengthAdjust="spacingAndGlyphs">0.04</text>
<line x1="571.0" x2="571.0" y1="444.6" y2="448.6" stroke="#333333" stroke-width="1.3"/>
<text x="571.0" y="461.6" text-anchor="middle" font-size="14" fill="#4d4d4d">0.91</text>
<line x1="673.1" x2="673.1" y1="444.6" y2="448.6" stroke="#333333" stroke-width="1.3"/>
<text x="673.1" y="461.6" text-anchor="middle" font-size="14" fill="#4d4d4d">1.00</text>
<text x="43" y="288.4" text-anchor="end" font-size="14" fill="#4d4d4d">0.8</text>
<line x1="46.4" x2="50.3" y1="283.4" y2="283.4" stroke="#333333" stroke-width="1.3"/>
<text x="43" y="442.2" text-anchor="end" font-size="14" fill="#4d4d4d">0.0</text>
<line x1="46.4" x2="50.3" y1="437.2" y2="437.2" stroke="#333333" stroke-width="1.3"/>
</svg></body></html>
